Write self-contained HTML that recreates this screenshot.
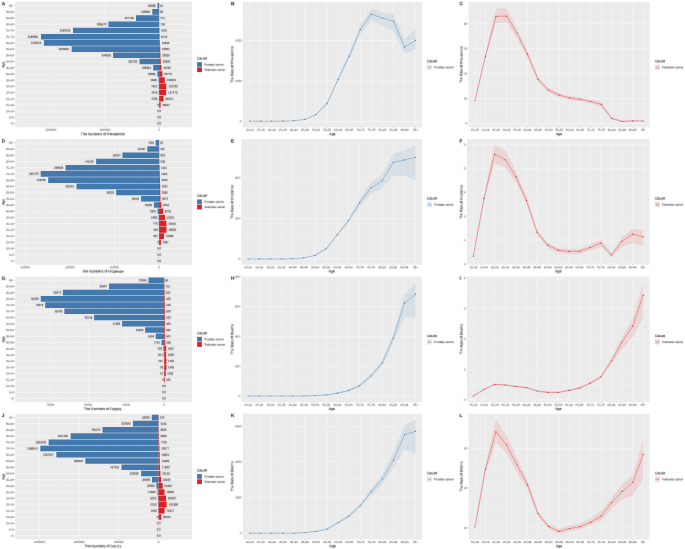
<!DOCTYPE html>
<html lang="en">
<head>
<meta charset="utf-8">
<title>Prostate and testicular cancer by age</title>
<style>
html,body{margin:0;padding:0;background:#fff;}
body{width:685px;height:549px;overflow:hidden;}
svg{display:block;font-family:"Liberation Sans",Arial,Helvetica,sans-serif;text-rendering:geometricPrecision;}
text{stroke-width:0.05px;}
</style>
</head>
<body>
<svg width="685" height="549" viewBox="0 0 685 549">
<defs><filter id="tb" x="0" y="0" width="100%" height="100%" filterUnits="userSpaceOnUse"><feConvolveMatrix order="3" kernelMatrix="0.0120 0.0960 0.0120 0.0760 0.6080 0.0760 0.0120 0.0960 0.0120" edgeMode="none" preserveAlpha="false"/></filter></defs>
<rect width="685" height="549" fill="#fff"/>
<g>
<rect x="15.3" y="1.95" width="176.5" height="125.35" fill="#EBEBEB"/>
<path d="M23.65 1.95V127.3M77.85 1.95V127.3M132.05 1.95V127.3M186.25 1.95V127.3" stroke="#fff" stroke-width="0.2" fill="none"/>
<path d="M50.75 1.95V127.3M104.95 1.95V127.3M159.15 1.95V127.3M15.3 5.67H191.8M15.3 11.88H191.8M15.3 18.08H191.8M15.3 24.29H191.8M15.3 30.5H191.8M15.3 36.7H191.8M15.3 42.91H191.8M15.3 49.11H191.8M15.3 55.32H191.8M15.3 61.52H191.8M15.3 67.73H191.8M15.3 73.93H191.8M15.3 80.14H191.8M15.3 86.34H191.8M15.3 92.55H191.8M15.3 98.75H191.8M15.3 104.96H191.8M15.3 111.17H191.8M15.3 117.37H191.8M15.3 123.58H191.8" stroke="#fff" stroke-width="0.37" fill="none"/>
<path d="M157.51 2.88H159.15V8.47H157.51ZM152.27 9.09H159.15V14.67H152.27ZM135.97 15.29H159.15V20.88H135.97ZM108.43 21.5H159.15V27.08H108.43ZM72.97 27.7H159.15V33.29H72.97ZM40.99 33.91H159.15V39.49H40.99ZM43.91 40.11H159.15V45.7H43.91ZM71.69 46.32H159.15V51.9H71.69ZM113.1 52.52H159.15V58.11H113.1ZM139.49 58.73H159.15V64.31H139.49ZM153.2 64.94H159.15V70.52H153.2ZM157.38 71.14H159.15V76.73H157.38ZM158.63 77.35H159.15V82.93H158.63ZM158.72 83.55H159.15V89.14H158.72ZM158.92 89.76H159.15V95.34H158.92ZM159 95.96H159.15V101.55H159Z" fill="#4379AD"/>
<path d="M159.15 2.88H159.15V8.47H159.15ZM159.15 9.09H159.15V14.67H159.15ZM159.15 15.29H159.16V20.88H159.15ZM159.15 21.5H159.19V27.08H159.15ZM159.15 27.7H159.4V33.29H159.15ZM159.15 33.91H159.61V39.49H159.15ZM159.15 40.11H159.83V45.7H159.15ZM159.15 46.32H160.2V51.9H159.15ZM159.15 52.52H160.41V58.11H159.15ZM159.15 58.73H160.76V64.31H159.15ZM159.15 64.94H161.4V70.52H159.15ZM159.15 71.14H162.44V76.73H159.15ZM159.15 77.35H164.73V82.93H159.15ZM159.15 83.55H166.29V89.14H159.15ZM159.15 89.76H166.06V95.34H159.15ZM159.15 95.96H163.54V101.55H159.15ZM159.15 102.17H160.59V107.75H159.15Z" fill="#DB2226"/>
<path d="M159.15 2.88V126.37" stroke="#DB2226" stroke-width="0.14" stroke-opacity="0.75" fill="none"/>
<path d="M14.42 5.67H15.3M14.42 11.88H15.3M14.42 18.08H15.3M14.42 24.29H15.3M14.42 30.5H15.3M14.42 36.7H15.3M14.42 42.91H15.3M14.42 49.11H15.3M14.42 55.32H15.3M14.42 61.52H15.3M14.42 67.73H15.3M14.42 73.93H15.3M14.42 80.14H15.3M14.42 86.34H15.3M14.42 92.55H15.3M14.42 98.75H15.3M14.42 104.96H15.3M14.42 111.17H15.3M14.42 117.37H15.3M14.42 123.58H15.3" stroke="#444" stroke-width="0.24" fill="none"/>
<path d="M50.75 127.3V128.18M104.95 127.3V128.18M159.15 127.3V128.18" stroke="#444" stroke-width="0.24" fill="none"/>
<rect x="197.1" y="62.12" width="4.8" height="4.75" fill="#4379AD"/>
<rect x="197.1" y="67.38" width="4.8" height="4.75" fill="#DB2226"/>
</g>
<g>
<rect x="15.3" y="139.1" width="176.5" height="125.6" fill="#EBEBEB"/>
<path d="M47.6 139.1V264.7M92.2 139.1V264.7M136.8 139.1V264.7M181.4 139.1V264.7" stroke="#fff" stroke-width="0.2" fill="none"/>
<path d="M25.3 139.1V264.7M69.9 139.1V264.7M114.5 139.1V264.7M159.1 139.1V264.7M15.3 142.83H191.8M15.3 149.05H191.8M15.3 155.27H191.8M15.3 161.48H191.8M15.3 167.7H191.8M15.3 173.92H191.8M15.3 180.14H191.8M15.3 186.36H191.8M15.3 192.57H191.8M15.3 198.79H191.8M15.3 205.01H191.8M15.3 211.23H191.8M15.3 217.44H191.8M15.3 223.66H191.8M15.3 229.88H191.8M15.3 236.1H191.8M15.3 242.32H191.8M15.3 248.53H191.8M15.3 254.75H191.8M15.3 260.97H191.8" stroke="#fff" stroke-width="0.37" fill="none"/>
<path d="M155.71 140.03H159.1V145.63H155.71ZM147.32 146.25H159.1V151.85H147.32ZM122.39 152.47H159.1V158.06H122.39ZM96.15 158.69H159.1V164.28H96.15ZM65.6 164.9H159.1V170.5H65.6ZM40.7 171.12H159.1V176.72H40.7ZM48.17 177.34H159.1V182.94H48.17ZM76.47 183.56H159.1V189.15H76.47ZM116.14 189.78H159.1V195.37H116.14ZM141.02 195.99H159.1V201.59H141.02ZM153.94 202.21H159.1V207.81H153.94ZM157.62 208.43H159.1V214.02H157.62ZM158.61 214.65H159.1V220.24H158.61ZM158.75 220.86H159.1V226.46H158.75ZM158.89 227.08H159.1V232.68H158.89ZM158.94 233.3H159.1V238.9H158.94Z" fill="#4379AD"/>
<path d="M159.1 140.03H159.12V145.63H159.1ZM159.1 146.25H159.16V151.85H159.1ZM159.1 152.47H159.24V158.06H159.1ZM159.1 158.69H159.33V164.28H159.1ZM159.1 164.9H159.6V170.5H159.1ZM159.1 171.12H159.78V176.72H159.1ZM159.1 177.34H160V182.94H159.1ZM159.1 183.56H160.15V189.15H159.1ZM159.1 189.78H160.3V195.37H159.1ZM159.1 195.99H160.47V201.59H159.1ZM159.1 202.21H161.35V207.81H159.1ZM159.1 208.43H163.24V214.02H159.1ZM159.1 214.65H164.94V220.24H159.1ZM159.1 220.86H166.38V226.46H159.1ZM159.1 227.08H166.5V232.68H159.1ZM159.1 233.3H164.04V238.9H159.1ZM159.1 239.52H160.9V245.11H159.1Z" fill="#DB2226"/>
<path d="M159.1 140.03V263.77" stroke="#DB2226" stroke-width="0.14" stroke-opacity="0.75" fill="none"/>
<path d="M14.42 142.83H15.3M14.42 149.05H15.3M14.42 155.27H15.3M14.42 161.48H15.3M14.42 167.7H15.3M14.42 173.92H15.3M14.42 180.14H15.3M14.42 186.36H15.3M14.42 192.57H15.3M14.42 198.79H15.3M14.42 205.01H15.3M14.42 211.23H15.3M14.42 217.44H15.3M14.42 223.66H15.3M14.42 229.88H15.3M14.42 236.1H15.3M14.42 242.32H15.3M14.42 248.53H15.3M14.42 254.75H15.3M14.42 260.97H15.3" stroke="#444" stroke-width="0.24" fill="none"/>
<path d="M25.3 264.7V265.58M69.9 264.7V265.58M114.5 264.7V265.58M159.1 264.7V265.58" stroke="#444" stroke-width="0.24" fill="none"/>
<rect x="197.1" y="199.4" width="4.8" height="4.75" fill="#4379AD"/>
<rect x="197.1" y="204.65" width="4.8" height="4.75" fill="#DB2226"/>
</g>
<g>
<rect x="15.3" y="276.45" width="176.5" height="125.75" fill="#EBEBEB"/>
<path d="M31.2 276.45V402.2M69.2 276.45V402.2M107.2 276.45V402.2M145.2 276.45V402.2M183.2 276.45V402.2" stroke="#fff" stroke-width="0.2" fill="none"/>
<path d="M50.2 276.45V402.2M88.2 276.45V402.2M126.2 276.45V402.2M164.2 276.45V402.2M15.3 280.19H191.8M15.3 286.41H191.8M15.3 292.64H191.8M15.3 298.86H191.8M15.3 305.09H191.8M15.3 311.31H191.8M15.3 317.54H191.8M15.3 323.76H191.8M15.3 329.99H191.8M15.3 336.21H191.8M15.3 342.44H191.8M15.3 348.66H191.8M15.3 354.89H191.8M15.3 361.11H191.8M15.3 367.34H191.8M15.3 373.56H191.8M15.3 379.79H191.8M15.3 386.01H191.8M15.3 392.24H191.8M15.3 398.46H191.8" stroke="#fff" stroke-width="0.37" fill="none"/>
<path d="M148.47 277.38H164.2V282.99H148.47ZM109.03 283.61H164.2V289.21H109.03ZM62.86 289.83H164.2V295.44H62.86ZM40.77 296.06H164.2V301.66H40.77ZM45.22 302.28H164.2V307.89H45.22ZM64.33 308.51H164.2V314.11H64.33ZM94.06 314.74H164.2V320.34H94.06ZM122.1 320.96H164.2V326.56H122.1ZM145.11 327.19H164.2V332.79H145.11ZM155.75 333.41H164.2V339.01H155.75ZM161.52 339.64H164.2V345.24H161.52ZM163.43 345.86H164.2V351.46H163.43ZM163.8 352.09H164.2V357.69H163.8ZM163.97 358.31H164.2V363.91H163.97ZM164.06 364.54H164.2V370.14H164.06ZM164.11 370.76H164.2V376.37H164.11Z" fill="#4379AD"/>
<path d="M164.2 277.38H164.29V282.99H164.2ZM164.2 283.61H164.41V289.21H164.2ZM164.2 289.83H164.7V295.44H164.2ZM164.2 296.06H164.82V301.66H164.2ZM164.2 302.28H164.88V307.89H164.2ZM164.2 308.51H164.97V314.11H164.2ZM164.2 314.74H164.99V320.34H164.2ZM164.2 320.96H164.95V326.56H164.2ZM164.2 327.19H164.95V332.79H164.2ZM164.2 333.41H164.97V339.01H164.2ZM164.2 339.64H165.24V345.24H164.2ZM164.2 345.86H166.19V351.46H164.2ZM164.2 352.09H166.13V357.69H164.2ZM164.2 358.31H166.47V363.91H164.2ZM164.2 364.54H166.43V370.14H164.2ZM164.2 370.76H165.77V376.37H164.2ZM164.2 376.99H164.85V382.59H164.2Z" fill="#DB2226"/>
<path d="M164.2 277.38V401.27" stroke="#DB2226" stroke-width="0.14" stroke-opacity="0.75" fill="none"/>
<path d="M14.42 280.19H15.3M14.42 286.41H15.3M14.42 292.64H15.3M14.42 298.86H15.3M14.42 305.09H15.3M14.42 311.31H15.3M14.42 317.54H15.3M14.42 323.76H15.3M14.42 329.99H15.3M14.42 336.21H15.3M14.42 342.44H15.3M14.42 348.66H15.3M14.42 354.89H15.3M14.42 361.11H15.3M14.42 367.34H15.3M14.42 373.56H15.3M14.42 379.79H15.3M14.42 386.01H15.3M14.42 392.24H15.3M14.42 398.46H15.3" stroke="#444" stroke-width="0.24" fill="none"/>
<path d="M50.2 402.2V403.08M88.2 402.2V403.08M126.2 402.2V403.08M164.2 402.2V403.08" stroke="#444" stroke-width="0.24" fill="none"/>
<rect x="197.1" y="336.82" width="4.8" height="4.75" fill="#4379AD"/>
<rect x="197.1" y="342.07" width="4.8" height="4.75" fill="#DB2226"/>
</g>
<g>
<rect x="15.3" y="413.7" width="176.5" height="125.75" fill="#EBEBEB"/>
<path d="M19.65 413.7V539.45M59.35 413.7V539.45M99.05 413.7V539.45M138.75 413.7V539.45M178.45 413.7V539.45" stroke="#fff" stroke-width="0.2" fill="none"/>
<path d="M39.5 413.7V539.45M79.2 413.7V539.45M118.9 413.7V539.45M158.6 413.7V539.45M15.3 417.44H191.8M15.3 423.66H191.8M15.3 429.89H191.8M15.3 436.11H191.8M15.3 442.34H191.8M15.3 448.56H191.8M15.3 454.79H191.8M15.3 461.01H191.8M15.3 467.24H191.8M15.3 473.46H191.8M15.3 479.69H191.8M15.3 485.91H191.8M15.3 492.14H191.8M15.3 498.36H191.8M15.3 504.59H191.8M15.3 510.81H191.8M15.3 517.04H191.8M15.3 523.26H191.8M15.3 529.49H191.8M15.3 535.71H191.8" stroke="#fff" stroke-width="0.37" fill="none"/>
<path d="M151.77 414.63H158.6V420.24H151.77ZM132.97 420.86H158.6V426.46H132.97ZM102.53 427.08H158.6V432.69H102.53ZM70.69 433.31H158.6V438.91H70.69ZM48.66 439.53H158.6V445.14H48.66ZM40.31 445.76H158.6V451.36H40.31ZM56.34 451.99H158.6V457.59H56.34ZM85.32 458.21H158.6V463.81H85.32ZM121.49 464.44H158.6V470.04H121.49ZM141.08 470.66H158.6V476.26H141.08ZM152.01 476.89H158.6V482.49H152.01ZM156.37 483.11H158.6V488.71H156.37ZM157.43 489.34H158.6V494.94H157.43ZM157.88 495.56H158.6V501.16H157.88ZM158.1 501.79H158.6V507.39H158.1ZM158.28 508.01H158.6V513.62H158.28Z" fill="#4379AD"/>
<path d="M158.6 414.63H158.63V420.24H158.6ZM158.6 420.86H158.7V426.46H158.6ZM158.6 427.08H158.85V432.69H158.6ZM158.6 433.31H159.08V438.91H158.6ZM158.6 439.53H159.21V445.14H158.6ZM158.6 445.76H159.45V451.36H158.6ZM158.6 451.99H159.7V457.59H158.6ZM158.6 458.21H159.81V463.81H158.6ZM158.6 464.44H160.01V470.04H158.6ZM158.6 470.66H160.44V476.26H158.6ZM158.6 476.89H161.15V482.49H158.6ZM158.6 483.11H162.73V488.71H158.6ZM158.6 489.34H164.47V494.94H158.6ZM158.6 495.56H166.07V501.16H158.6ZM158.6 501.79H166.65V507.39H158.6ZM158.6 508.01H164.57V513.62H158.6ZM158.6 514.24H161.2V519.84H158.6Z" fill="#DB2226"/>
<path d="M158.6 414.63V538.52" stroke="#DB2226" stroke-width="0.14" stroke-opacity="0.75" fill="none"/>
<path d="M14.42 417.44H15.3M14.42 423.66H15.3M14.42 429.89H15.3M14.42 436.11H15.3M14.42 442.34H15.3M14.42 448.56H15.3M14.42 454.79H15.3M14.42 461.01H15.3M14.42 467.24H15.3M14.42 473.46H15.3M14.42 479.69H15.3M14.42 485.91H15.3M14.42 492.14H15.3M14.42 498.36H15.3M14.42 504.59H15.3M14.42 510.81H15.3M14.42 517.04H15.3M14.42 523.26H15.3M14.42 529.49H15.3M14.42 535.71H15.3" stroke="#444" stroke-width="0.24" fill="none"/>
<path d="M39.5 539.45V540.33M79.2 539.45V540.33M118.9 539.45V540.33M158.6 539.45V540.33" stroke="#444" stroke-width="0.24" fill="none"/>
<rect x="197.1" y="474.08" width="4.8" height="4.75" fill="#4379AD"/>
<rect x="197.1" y="479.33" width="4.8" height="4.75" fill="#DB2226"/>
</g>
<g>
<rect x="242.9" y="1.95" width="179.1" height="125.35" fill="#EBEBEB"/>
<path d="M242.9 101.1H422M242.9 60.7H422M242.9 20.3H422" stroke="#fff" stroke-width="0.2" fill="none"/>
<path d="M249.54 1.95V127.3M260.62 1.95V127.3M271.69 1.95V127.3M282.77 1.95V127.3M293.84 1.95V127.3M304.91 1.95V127.3M315.99 1.95V127.3M327.06 1.95V127.3M338.14 1.95V127.3M349.21 1.95V127.3M360.29 1.95V127.3M371.36 1.95V127.3M382.43 1.95V127.3M393.51 1.95V127.3M404.58 1.95V127.3M415.66 1.95V127.3M242.9 121.3H422M242.9 80.9H422M242.9 40.5H422" stroke="#fff" stroke-width="0.37" fill="none"/>
<path d="M249.54 120.9L260.62 120.9L271.69 120.9L282.77 120.9L293.84 120.5L304.91 119L315.99 114L327.06 102.6L338.14 77.8L349.21 53.5L360.29 25.2L371.36 8.3L382.43 12.3L393.51 14.3L404.58 39L415.66 29.2L415.66 49.6L404.58 53.6L393.51 31.3L382.43 25.9L371.36 19.9L360.29 34.2L349.21 59L338.14 81L327.06 104.6L315.99 115.2L304.91 119.8L293.84 121.1L282.77 121.5L271.69 121.5L260.62 121.5L249.54 121.5Z" fill="#4682B4" fill-opacity="0.115"/>
<path d="M249.54 121.2L260.62 121.2L271.69 121.2L282.77 121.2L293.84 120.8L304.91 119.4L315.99 114.6L327.06 103.6L338.14 79.4L349.21 56.2L360.29 29.6L371.36 14.2L382.43 18L393.51 21.2L404.58 47.2L415.66 40.4" fill="none" stroke="#4079B0" stroke-width="0.38" stroke-linejoin="round"/>
<g fill="#3A70A6"><circle cx="249.54" cy="121.2" r="0.58"/><circle cx="260.62" cy="121.2" r="0.58"/><circle cx="271.69" cy="121.2" r="0.58"/><circle cx="282.77" cy="121.2" r="0.58"/><circle cx="293.84" cy="120.8" r="0.58"/><circle cx="304.91" cy="119.4" r="0.58"/><circle cx="315.99" cy="114.6" r="0.58"/><circle cx="327.06" cy="103.6" r="0.58"/><circle cx="338.14" cy="79.4" r="0.58"/><circle cx="349.21" cy="56.2" r="0.58"/><circle cx="360.29" cy="29.6" r="0.58"/><circle cx="371.36" cy="14.2" r="0.58"/><circle cx="382.43" cy="18" r="0.58"/><circle cx="393.51" cy="21.2" r="0.58"/><circle cx="404.58" cy="47.2" r="0.58"/><circle cx="415.66" cy="40.4" r="0.58"/></g>
<path d="M242.02 121.3H242.9M242.02 80.9H242.9M242.02 40.5H242.9" stroke="#444" stroke-width="0.24" fill="none"/>
<path d="M249.54 127.3V128.18M260.62 127.3V128.18M271.69 127.3V128.18M282.77 127.3V128.18M293.84 127.3V128.18M304.91 127.3V128.18M315.99 127.3V128.18M327.06 127.3V128.18M338.14 127.3V128.18M349.21 127.3V128.18M360.29 127.3V128.18M371.36 127.3V128.18M382.43 127.3V128.18M393.51 127.3V128.18M404.58 127.3V128.18M415.66 127.3V128.18" stroke="#444" stroke-width="0.24" fill="none"/>
<rect x="427" y="64.88" width="4.85" height="4.85" fill="#F2F2F2"/>
<rect x="427" y="64.88" width="4.85" height="4.85" fill="#4682B4" fill-opacity="0.13"/>
<path d="M427.77 67.3h3.3" stroke="#4079B0" stroke-width="0.3" stroke-opacity="0.8" fill="none"/>
<circle cx="429.42" cy="67.3" r="0.4" fill="#4079B0"/>
</g>
<g>
<rect x="468.6" y="1.95" width="181" height="125.35" fill="#EBEBEB"/>
<path d="M468.6 110.85H649.6M468.6 85.95H649.6M468.6 61.05H649.6M468.6 36.15H649.6M468.6 11.25H649.6" stroke="#fff" stroke-width="0.2" fill="none"/>
<path d="M474.91 1.95V127.3M485.44 1.95V127.3M495.96 1.95V127.3M506.48 1.95V127.3M517.01 1.95V127.3M527.53 1.95V127.3M538.05 1.95V127.3M548.58 1.95V127.3M559.1 1.95V127.3M569.62 1.95V127.3M580.15 1.95V127.3M590.67 1.95V127.3M601.19 1.95V127.3M611.72 1.95V127.3M622.24 1.95V127.3M632.76 1.95V127.3M643.29 1.95V127.3M468.6 123.3H649.6M468.6 98.4H649.6M468.6 73.5H649.6M468.6 48.6H649.6M468.6 23.7H649.6" stroke="#fff" stroke-width="0.37" fill="none"/>
<path d="M474.91 99.6L485.44 54L495.96 8.4L506.48 8L517.01 29L527.53 51L538.05 77L548.58 88L559.1 93L569.62 96L580.15 97.4L590.67 99.4L601.19 101.9L611.72 117.6L622.24 120.8L632.76 120.3L643.29 120.4L643.29 121.6L632.76 121.6L622.24 122L611.72 119.4L601.19 106.7L590.67 103.6L580.15 101.4L569.62 100L559.1 97.2L548.58 92.6L538.05 82L527.53 58L517.01 38L506.48 22.4L495.96 23L485.44 58.4L474.91 101.6Z" fill="#E41A1C" fill-opacity="0.11"/>
<path d="M474.91 100.6L485.44 56.2L495.96 16.4L506.48 16.1L517.01 33L527.53 54.2L538.05 79.2L548.58 90L559.1 95L569.62 97.9L580.15 99.3L590.67 101.5L601.19 104.3L611.72 118.4L622.24 121.4L632.76 120.9L643.29 121" fill="none" stroke="#DB2C32" stroke-width="0.38" stroke-linejoin="round"/>
<g fill="#D3222A"><circle cx="474.91" cy="100.6" r="0.58"/><circle cx="485.44" cy="56.2" r="0.58"/><circle cx="495.96" cy="16.4" r="0.58"/><circle cx="506.48" cy="16.1" r="0.58"/><circle cx="517.01" cy="33" r="0.58"/><circle cx="527.53" cy="54.2" r="0.58"/><circle cx="538.05" cy="79.2" r="0.58"/><circle cx="548.58" cy="90" r="0.58"/><circle cx="559.1" cy="95" r="0.58"/><circle cx="569.62" cy="97.9" r="0.58"/><circle cx="580.15" cy="99.3" r="0.58"/><circle cx="590.67" cy="101.5" r="0.58"/><circle cx="601.19" cy="104.3" r="0.58"/><circle cx="611.72" cy="118.4" r="0.58"/><circle cx="622.24" cy="121.4" r="0.58"/><circle cx="632.76" cy="120.9" r="0.58"/><circle cx="643.29" cy="121" r="0.58"/></g>
<path d="M467.72 123.3H468.6M467.72 98.4H468.6M467.72 73.5H468.6M467.72 48.6H468.6M467.72 23.7H468.6" stroke="#444" stroke-width="0.24" fill="none"/>
<path d="M474.91 127.3V128.18M485.44 127.3V128.18M495.96 127.3V128.18M506.48 127.3V128.18M517.01 127.3V128.18M527.53 127.3V128.18M538.05 127.3V128.18M548.58 127.3V128.18M559.1 127.3V128.18M569.62 127.3V128.18M580.15 127.3V128.18M590.67 127.3V128.18M601.19 127.3V128.18M611.72 127.3V128.18M622.24 127.3V128.18M632.76 127.3V128.18M643.29 127.3V128.18" stroke="#444" stroke-width="0.24" fill="none"/>
<rect x="655" y="64.88" width="4.85" height="4.85" fill="#F2F2F2"/>
<rect x="655" y="64.88" width="4.85" height="4.85" fill="#E41A1C" fill-opacity="0.13"/>
<path d="M655.77 67.3h3.3" stroke="#DB2C32" stroke-width="0.3" stroke-opacity="0.8" fill="none"/>
<circle cx="657.42" cy="67.3" r="0.4" fill="#DB2C32"/>
</g>
<g>
<rect x="241.3" y="139.1" width="180.7" height="125.6" fill="#EBEBEB"/>
<path d="M241.3 238.6H422M241.3 198.1H422M241.3 157.6H422" stroke="#fff" stroke-width="0.2" fill="none"/>
<path d="M248 139.1V264.7M259.18 139.1V264.7M270.35 139.1V264.7M281.52 139.1V264.7M292.7 139.1V264.7M303.87 139.1V264.7M315.04 139.1V264.7M326.21 139.1V264.7M337.39 139.1V264.7M348.56 139.1V264.7M359.73 139.1V264.7M370.9 139.1V264.7M382.08 139.1V264.7M393.25 139.1V264.7M404.42 139.1V264.7M415.6 139.1V264.7M241.3 258.85H422M241.3 218.35H422M241.3 177.85H422" stroke="#fff" stroke-width="0.37" fill="none"/>
<path d="M248 258.65L259.18 258.65L270.35 258.65L281.52 258.65L292.7 258.45L303.87 257.65L315.04 254.75L326.21 247.75L337.39 233.35L348.56 218.75L359.73 199.35L370.9 182.35L382.08 174.35L393.25 153.75L404.42 150.35L415.6 144.95L415.6 180.95L404.42 175.35L393.25 176.35L382.08 188.35L370.9 193.75L359.73 206.35L348.56 222.35L337.39 235.95L326.21 249.75L315.04 255.95L303.87 258.25L292.7 259.05L281.52 259.25L270.35 259.25L259.18 259.25L248 259.25Z" fill="#4682B4" fill-opacity="0.115"/>
<path d="M248 258.95L259.18 258.95L270.35 258.95L281.52 258.95L292.7 258.75L303.87 257.95L315.04 255.35L326.21 248.75L337.39 234.65L348.56 220.55L359.73 202.65L370.9 187.95L382.08 180.75L393.25 162.35L404.42 159.95L415.6 157.35" fill="none" stroke="#4079B0" stroke-width="0.38" stroke-linejoin="round"/>
<g fill="#3A70A6"><circle cx="248" cy="258.95" r="0.58"/><circle cx="259.18" cy="258.95" r="0.58"/><circle cx="270.35" cy="258.95" r="0.58"/><circle cx="281.52" cy="258.95" r="0.58"/><circle cx="292.7" cy="258.75" r="0.58"/><circle cx="303.87" cy="257.95" r="0.58"/><circle cx="315.04" cy="255.35" r="0.58"/><circle cx="326.21" cy="248.75" r="0.58"/><circle cx="337.39" cy="234.65" r="0.58"/><circle cx="348.56" cy="220.55" r="0.58"/><circle cx="359.73" cy="202.65" r="0.58"/><circle cx="370.9" cy="187.95" r="0.58"/><circle cx="382.08" cy="180.75" r="0.58"/><circle cx="393.25" cy="162.35" r="0.58"/><circle cx="404.42" cy="159.95" r="0.58"/><circle cx="415.6" cy="157.35" r="0.58"/></g>
<path d="M240.42 258.85H241.3M240.42 218.35H241.3M240.42 177.85H241.3" stroke="#444" stroke-width="0.24" fill="none"/>
<path d="M248 264.7V265.58M259.18 264.7V265.58M270.35 264.7V265.58M281.52 264.7V265.58M292.7 264.7V265.58M303.87 264.7V265.58M315.04 264.7V265.58M326.21 264.7V265.58M337.39 264.7V265.58M348.56 264.7V265.58M359.73 264.7V265.58M370.9 264.7V265.58M382.08 264.7V265.58M393.25 264.7V265.58M404.42 264.7V265.58M415.6 264.7V265.58" stroke="#444" stroke-width="0.24" fill="none"/>
<rect x="427" y="202.15" width="4.85" height="4.85" fill="#F2F2F2"/>
<rect x="427" y="202.15" width="4.85" height="4.85" fill="#4682B4" fill-opacity="0.13"/>
<path d="M427.77 204.57h3.3" stroke="#4079B0" stroke-width="0.3" stroke-opacity="0.8" fill="none"/>
<circle cx="429.42" cy="204.57" r="0.4" fill="#4079B0"/>
</g>
<g>
<rect x="467" y="139.1" width="182.6" height="125.6" fill="#EBEBEB"/>
<path d="M467 252.04H649.6M467 228.12H649.6M467 204.2H649.6M467 180.28H649.6M467 156.36H649.6" stroke="#fff" stroke-width="0.2" fill="none"/>
<path d="M473.37 139.1V264.7M483.99 139.1V264.7M494.6 139.1V264.7M505.22 139.1V264.7M515.83 139.1V264.7M526.45 139.1V264.7M537.07 139.1V264.7M547.68 139.1V264.7M558.3 139.1V264.7M568.92 139.1V264.7M579.53 139.1V264.7M590.15 139.1V264.7M600.77 139.1V264.7M611.38 139.1V264.7M622 139.1V264.7M632.61 139.1V264.7M643.23 139.1V264.7M467 264H649.6M467 240.08H649.6M467 216.16H649.6M467 192.24H649.6M467 168.32H649.6M467 144.4H649.6" stroke="#fff" stroke-width="0.37" fill="none"/>
<path d="M473.37 255.2L483.99 196L494.6 145L505.22 150.6L515.83 171L526.45 196L537.07 230L547.68 243L558.3 248L568.92 249L579.53 249L590.15 244.6L600.77 239L611.38 253L622 237L632.61 229L643.23 230.4L643.23 246.6L632.61 242.6L622 247L611.38 257.4L600.77 247L590.15 250.6L579.53 254L568.92 254L558.3 252.6L547.68 247.4L537.07 234.6L526.45 204L515.83 182L505.22 168L494.6 163L483.99 201L473.37 257.2Z" fill="#E41A1C" fill-opacity="0.11"/>
<path d="M473.37 256.2L483.99 198.4L494.6 154.2L505.22 159.8L515.83 176.6L526.45 200.4L537.07 232.2L547.68 245L558.3 250.2L568.92 251.4L579.53 251.4L590.15 247.5L600.77 243.2L611.38 255L622 241.4L632.61 234.2L643.23 236.8" fill="none" stroke="#DB2C32" stroke-width="0.38" stroke-linejoin="round"/>
<g fill="#D3222A"><circle cx="473.37" cy="256.2" r="0.58"/><circle cx="483.99" cy="198.4" r="0.58"/><circle cx="494.6" cy="154.2" r="0.58"/><circle cx="505.22" cy="159.8" r="0.58"/><circle cx="515.83" cy="176.6" r="0.58"/><circle cx="526.45" cy="200.4" r="0.58"/><circle cx="537.07" cy="232.2" r="0.58"/><circle cx="547.68" cy="245" r="0.58"/><circle cx="558.3" cy="250.2" r="0.58"/><circle cx="568.92" cy="251.4" r="0.58"/><circle cx="579.53" cy="251.4" r="0.58"/><circle cx="590.15" cy="247.5" r="0.58"/><circle cx="600.77" cy="243.2" r="0.58"/><circle cx="611.38" cy="255" r="0.58"/><circle cx="622" cy="241.4" r="0.58"/><circle cx="632.61" cy="234.2" r="0.58"/><circle cx="643.23" cy="236.8" r="0.58"/></g>
<path d="M466.12 264H467M466.12 240.08H467M466.12 216.16H467M466.12 192.24H467M466.12 168.32H467M466.12 144.4H467" stroke="#444" stroke-width="0.24" fill="none"/>
<path d="M473.37 264.7V265.58M483.99 264.7V265.58M494.6 264.7V265.58M505.22 264.7V265.58M515.83 264.7V265.58M526.45 264.7V265.58M537.07 264.7V265.58M547.68 264.7V265.58M558.3 264.7V265.58M568.92 264.7V265.58M579.53 264.7V265.58M590.15 264.7V265.58M600.77 264.7V265.58M611.38 264.7V265.58M622 264.7V265.58M632.61 264.7V265.58M643.23 264.7V265.58" stroke="#444" stroke-width="0.24" fill="none"/>
<rect x="655" y="202.15" width="4.85" height="4.85" fill="#F2F2F2"/>
<rect x="655" y="202.15" width="4.85" height="4.85" fill="#E41A1C" fill-opacity="0.13"/>
<path d="M655.77 204.57h3.3" stroke="#DB2C32" stroke-width="0.3" stroke-opacity="0.8" fill="none"/>
<circle cx="657.42" cy="204.57" r="0.4" fill="#DB2C32"/>
</g>
<g>
<rect x="241.3" y="276.45" width="180.7" height="125.75" fill="#EBEBEB"/>
<path d="M241.3 381.1H422M241.3 351.3H422M241.3 321.5H422M241.3 291.7H422" stroke="#fff" stroke-width="0.2" fill="none"/>
<path d="M248 276.45V402.2M259.18 276.45V402.2M270.35 276.45V402.2M281.52 276.45V402.2M292.7 276.45V402.2M303.87 276.45V402.2M315.04 276.45V402.2M326.21 276.45V402.2M337.39 276.45V402.2M348.56 276.45V402.2M359.73 276.45V402.2M370.9 276.45V402.2M382.08 276.45V402.2M393.25 276.45V402.2M404.42 276.45V402.2M415.6 276.45V402.2M241.3 396H422M241.3 366.2H422M241.3 336.4H422M241.3 306.6H422" stroke="#fff" stroke-width="0.37" fill="none"/>
<path d="M248 395.7L259.18 395.7L270.35 395.7L281.52 395.7L292.7 395.7L303.87 395.7L315.04 395.3L326.21 394.6L337.39 392.6L348.56 389.6L359.73 384L370.9 374L382.08 361L393.25 334L404.42 295L415.6 283L415.6 318L404.42 317L393.25 343L382.08 366L370.9 378L359.73 387.2L348.56 391.6L337.39 393.8L326.21 395.4L315.04 395.9L303.87 396.3L292.7 396.3L281.52 396.3L270.35 396.3L259.18 396.3L248 396.3Z" fill="#4682B4" fill-opacity="0.115"/>
<path d="M248 396L259.18 396L270.35 396L281.52 396L292.7 396L303.87 396L315.04 395.6L326.21 395L337.39 393.2L348.56 390.6L359.73 385.6L370.9 376L382.08 363L393.25 338L404.42 303.4L415.6 294.2" fill="none" stroke="#4079B0" stroke-width="0.38" stroke-linejoin="round"/>
<g fill="#3A70A6"><circle cx="248" cy="396" r="0.58"/><circle cx="259.18" cy="396" r="0.58"/><circle cx="270.35" cy="396" r="0.58"/><circle cx="281.52" cy="396" r="0.58"/><circle cx="292.7" cy="396" r="0.58"/><circle cx="303.87" cy="396" r="0.58"/><circle cx="315.04" cy="395.6" r="0.58"/><circle cx="326.21" cy="395" r="0.58"/><circle cx="337.39" cy="393.2" r="0.58"/><circle cx="348.56" cy="390.6" r="0.58"/><circle cx="359.73" cy="385.6" r="0.58"/><circle cx="370.9" cy="376" r="0.58"/><circle cx="382.08" cy="363" r="0.58"/><circle cx="393.25" cy="338" r="0.58"/><circle cx="404.42" cy="303.4" r="0.58"/><circle cx="415.6" cy="294.2" r="0.58"/></g>
<path d="M240.42 396H241.3M240.42 366.2H241.3M240.42 336.4H241.3M240.42 306.6H241.3M240.42 276.8H241.3" stroke="#444" stroke-width="0.24" fill="none"/>
<path d="M248 402.2V403.08M259.18 402.2V403.08M270.35 402.2V403.08M281.52 402.2V403.08M292.7 402.2V403.08M303.87 402.2V403.08M315.04 402.2V403.08M326.21 402.2V403.08M337.39 402.2V403.08M348.56 402.2V403.08M359.73 402.2V403.08M370.9 402.2V403.08M382.08 402.2V403.08M393.25 402.2V403.08M404.42 402.2V403.08M415.6 402.2V403.08" stroke="#444" stroke-width="0.24" fill="none"/>
<rect x="427" y="339.57" width="4.85" height="4.85" fill="#F2F2F2"/>
<rect x="427" y="339.57" width="4.85" height="4.85" fill="#4682B4" fill-opacity="0.13"/>
<path d="M427.77 342h3.3" stroke="#4079B0" stroke-width="0.3" stroke-opacity="0.8" fill="none"/>
<circle cx="429.42" cy="342" r="0.4" fill="#4079B0"/>
</g>
<g>
<rect x="467" y="276.45" width="182.6" height="125.75" fill="#EBEBEB"/>
<path d="M467 384.6H649.6M467 354.2H649.6M467 323.8H649.6M467 293.4H649.6" stroke="#fff" stroke-width="0.2" fill="none"/>
<path d="M473.37 276.45V402.2M483.99 276.45V402.2M494.6 276.45V402.2M505.22 276.45V402.2M515.83 276.45V402.2M526.45 276.45V402.2M537.07 276.45V402.2M547.68 276.45V402.2M558.3 276.45V402.2M568.92 276.45V402.2M579.53 276.45V402.2M590.15 276.45V402.2M600.77 276.45V402.2M611.38 276.45V402.2M622 276.45V402.2M632.61 276.45V402.2M643.23 276.45V402.2M467 399.8H649.6M467 369.4H649.6M467 339H649.6M467 308.6H649.6M467 278.2H649.6" stroke="#fff" stroke-width="0.37" fill="none"/>
<path d="M473.37 395.6L483.99 388.8L494.6 383.6L505.22 384.2L515.83 385.6L526.45 386.8L537.07 390.2L547.68 391.6L558.3 391.6L568.92 389.6L579.53 387L590.15 382L600.77 375.4L611.38 358L622 337L632.61 319L643.23 283L643.23 317L632.61 337L622 349L611.38 364L600.77 378.6L590.15 384.6L579.53 389L568.92 391.2L558.3 393.2L547.68 393.2L537.07 391.8L526.45 388.4L515.83 387.2L505.22 385.8L494.6 385.2L483.99 390L473.37 396.4Z" fill="#E41A1C" fill-opacity="0.11"/>
<path d="M473.37 396L483.99 389.4L494.6 384.4L505.22 385L515.83 386.4L526.45 387.6L537.07 391L547.68 392.4L558.3 392.4L568.92 390.4L579.53 388L590.15 383.2L600.77 377L611.38 361L622 342L632.61 326.2L643.23 295.2" fill="none" stroke="#DB2C32" stroke-width="0.38" stroke-linejoin="round"/>
<g fill="#D3222A"><circle cx="473.37" cy="396" r="0.58"/><circle cx="483.99" cy="389.4" r="0.58"/><circle cx="494.6" cy="384.4" r="0.58"/><circle cx="505.22" cy="385" r="0.58"/><circle cx="515.83" cy="386.4" r="0.58"/><circle cx="526.45" cy="387.6" r="0.58"/><circle cx="537.07" cy="391" r="0.58"/><circle cx="547.68" cy="392.4" r="0.58"/><circle cx="558.3" cy="392.4" r="0.58"/><circle cx="568.92" cy="390.4" r="0.58"/><circle cx="579.53" cy="388" r="0.58"/><circle cx="590.15" cy="383.2" r="0.58"/><circle cx="600.77" cy="377" r="0.58"/><circle cx="611.38" cy="361" r="0.58"/><circle cx="622" cy="342" r="0.58"/><circle cx="632.61" cy="326.2" r="0.58"/><circle cx="643.23" cy="295.2" r="0.58"/></g>
<path d="M466.12 399.8H467M466.12 369.4H467M466.12 339H467M466.12 308.6H467M466.12 278.2H467" stroke="#444" stroke-width="0.24" fill="none"/>
<path d="M473.37 402.2V403.08M483.99 402.2V403.08M494.6 402.2V403.08M505.22 402.2V403.08M515.83 402.2V403.08M526.45 402.2V403.08M537.07 402.2V403.08M547.68 402.2V403.08M558.3 402.2V403.08M568.92 402.2V403.08M579.53 402.2V403.08M590.15 402.2V403.08M600.77 402.2V403.08M611.38 402.2V403.08M622 402.2V403.08M632.61 402.2V403.08M643.23 402.2V403.08" stroke="#444" stroke-width="0.24" fill="none"/>
<rect x="655" y="339.57" width="4.85" height="4.85" fill="#F2F2F2"/>
<rect x="655" y="339.57" width="4.85" height="4.85" fill="#E41A1C" fill-opacity="0.13"/>
<path d="M655.77 342h3.3" stroke="#DB2C32" stroke-width="0.3" stroke-opacity="0.8" fill="none"/>
<circle cx="657.42" cy="342" r="0.4" fill="#DB2C32"/>
</g>
<g>
<rect x="243" y="413.7" width="179" height="125.75" fill="#EBEBEB"/>
<path d="M243 515.32H422M243 479.68H422M243 444.02H422" stroke="#fff" stroke-width="0.2" fill="none"/>
<path d="M249.64 413.7V539.45M260.71 413.7V539.45M271.78 413.7V539.45M282.84 413.7V539.45M293.91 413.7V539.45M304.98 413.7V539.45M316.05 413.7V539.45M327.12 413.7V539.45M338.18 413.7V539.45M349.25 413.7V539.45M360.32 413.7V539.45M371.39 413.7V539.45M382.46 413.7V539.45M393.52 413.7V539.45M404.59 413.7V539.45M415.66 413.7V539.45M243 533.15H422M243 497.5H422M243 461.85H422M243 426.2H422" stroke="#fff" stroke-width="0.37" fill="none"/>
<path d="M249.64 532.9L260.71 532.9L271.78 532.9L282.84 532.9L293.91 532.9L304.98 532.3L316.05 531L327.12 528.4L338.18 521.4L349.25 514L360.32 503.6L371.39 488L382.46 474L393.52 452L404.59 425L415.66 419.6L415.66 454L404.59 449.4L393.52 468L382.46 484L371.39 495L360.32 507.6L349.25 517.6L338.18 523.8L327.12 529.6L316.05 531.8L304.98 532.9L293.91 533.5L282.84 533.5L271.78 533.5L260.71 533.5L249.64 533.5Z" fill="#4682B4" fill-opacity="0.115"/>
<path d="M249.64 533.2L260.71 533.2L271.78 533.2L282.84 533.2L293.91 533.2L304.98 532.6L316.05 531.4L327.12 529L338.18 522.6L349.25 515.8L360.32 505.5L371.39 491.6L382.46 479L393.52 460L404.59 434.4L415.66 431.4" fill="none" stroke="#4079B0" stroke-width="0.38" stroke-linejoin="round"/>
<g fill="#3A70A6"><circle cx="249.64" cy="533.2" r="0.58"/><circle cx="260.71" cy="533.2" r="0.58"/><circle cx="271.78" cy="533.2" r="0.58"/><circle cx="282.84" cy="533.2" r="0.58"/><circle cx="293.91" cy="533.2" r="0.58"/><circle cx="304.98" cy="532.6" r="0.58"/><circle cx="316.05" cy="531.4" r="0.58"/><circle cx="327.12" cy="529" r="0.58"/><circle cx="338.18" cy="522.6" r="0.58"/><circle cx="349.25" cy="515.8" r="0.58"/><circle cx="360.32" cy="505.5" r="0.58"/><circle cx="371.39" cy="491.6" r="0.58"/><circle cx="382.46" cy="479" r="0.58"/><circle cx="393.52" cy="460" r="0.58"/><circle cx="404.59" cy="434.4" r="0.58"/><circle cx="415.66" cy="431.4" r="0.58"/></g>
<path d="M242.12 533.15H243M242.12 497.5H243M242.12 461.85H243M242.12 426.2H243" stroke="#444" stroke-width="0.24" fill="none"/>
<path d="M249.64 539.45V540.33M260.71 539.45V540.33M271.78 539.45V540.33M282.84 539.45V540.33M293.91 539.45V540.33M304.98 539.45V540.33M316.05 539.45V540.33M327.12 539.45V540.33M338.18 539.45V540.33M349.25 539.45V540.33M360.32 539.45V540.33M371.39 539.45V540.33M382.46 539.45V540.33M393.52 539.45V540.33M404.59 539.45V540.33M415.66 539.45V540.33" stroke="#444" stroke-width="0.24" fill="none"/>
<rect x="427" y="476.83" width="4.85" height="4.85" fill="#F2F2F2"/>
<rect x="427" y="476.83" width="4.85" height="4.85" fill="#4682B4" fill-opacity="0.13"/>
<path d="M427.77 479.25h3.3" stroke="#4079B0" stroke-width="0.3" stroke-opacity="0.8" fill="none"/>
<circle cx="429.42" cy="479.25" r="0.4" fill="#4079B0"/>
</g>
<g>
<rect x="468.6" y="413.7" width="181" height="125.75" fill="#EBEBEB"/>
<path d="M468.6 508.01H649.6M468.6 468.23H649.6M468.6 428.45H649.6" stroke="#fff" stroke-width="0.2" fill="none"/>
<path d="M474.91 413.7V539.45M485.44 413.7V539.45M495.96 413.7V539.45M506.48 413.7V539.45M517.01 413.7V539.45M527.53 413.7V539.45M538.05 413.7V539.45M548.58 413.7V539.45M559.1 413.7V539.45M569.62 413.7V539.45M580.15 413.7V539.45M590.67 413.7V539.45M601.19 413.7V539.45M611.72 413.7V539.45M622.24 413.7V539.45M632.76 413.7V539.45M643.29 413.7V539.45M468.6 527.9H649.6M468.6 488.12H649.6M468.6 448.34H649.6" stroke="#fff" stroke-width="0.37" fill="none"/>
<path d="M474.91 526L485.44 465.4L495.96 419.4L506.48 435.4L517.01 458.4L527.53 480.4L538.05 511.4L548.58 524.4L559.1 528.4L569.62 525.4L580.15 523.4L590.67 518.4L601.19 511L611.72 497.4L622.24 484.4L632.76 474.8L643.29 440L643.29 478.6L632.76 495.4L622.24 499.4L611.72 509L601.19 520.4L590.67 525L580.15 529.4L569.62 531L559.1 533.8L548.58 528.4L538.05 516.4L527.53 489.4L517.01 472.4L506.48 453.4L495.96 442.4L485.44 473.4L474.91 528Z" fill="#E41A1C" fill-opacity="0.11"/>
<path d="M474.91 527L485.44 469L495.96 431.8L506.48 444.8L517.01 465L527.53 484.7L538.05 513.6L548.58 526.4L559.1 531.4L569.62 528.6L580.15 526.6L590.67 522.2L601.19 516.2L611.72 502.6L622.24 491.4L632.76 482.4L643.29 454.4" fill="none" stroke="#DB2C32" stroke-width="0.38" stroke-linejoin="round"/>
<g fill="#D3222A"><circle cx="474.91" cy="527" r="0.58"/><circle cx="485.44" cy="469" r="0.58"/><circle cx="495.96" cy="431.8" r="0.58"/><circle cx="506.48" cy="444.8" r="0.58"/><circle cx="517.01" cy="465" r="0.58"/><circle cx="527.53" cy="484.7" r="0.58"/><circle cx="538.05" cy="513.6" r="0.58"/><circle cx="548.58" cy="526.4" r="0.58"/><circle cx="559.1" cy="531.4" r="0.58"/><circle cx="569.62" cy="528.6" r="0.58"/><circle cx="580.15" cy="526.6" r="0.58"/><circle cx="590.67" cy="522.2" r="0.58"/><circle cx="601.19" cy="516.2" r="0.58"/><circle cx="611.72" cy="502.6" r="0.58"/><circle cx="622.24" cy="491.4" r="0.58"/><circle cx="632.76" cy="482.4" r="0.58"/><circle cx="643.29" cy="454.4" r="0.58"/></g>
<path d="M467.72 527.9H468.6M467.72 488.12H468.6M467.72 448.34H468.6" stroke="#444" stroke-width="0.24" fill="none"/>
<path d="M474.91 539.45V540.33M485.44 539.45V540.33M495.96 539.45V540.33M506.48 539.45V540.33M517.01 539.45V540.33M527.53 539.45V540.33M538.05 539.45V540.33M548.58 539.45V540.33M559.1 539.45V540.33M569.62 539.45V540.33M580.15 539.45V540.33M590.67 539.45V540.33M601.19 539.45V540.33M611.72 539.45V540.33M622.24 539.45V540.33M632.76 539.45V540.33M643.29 539.45V540.33" stroke="#444" stroke-width="0.24" fill="none"/>
<rect x="655" y="476.83" width="4.85" height="4.85" fill="#F2F2F2"/>
<rect x="655" y="476.83" width="4.85" height="4.85" fill="#E41A1C" fill-opacity="0.13"/>
<path d="M655.77 479.25h3.3" stroke="#DB2C32" stroke-width="0.3" stroke-opacity="0.8" fill="none"/>
<circle cx="657.42" cy="479.25" r="0.4" fill="#DB2C32"/>
</g>
<g filter="url(#tb)">
<text x="155.62" y="6.65" font-size="2.72" fill="#000" stroke="#000" text-anchor="end" transform="rotate(0.1 155.62 6.65)">30338</text>
<text x="159.91" y="6.65" font-size="2.72" fill="#000" stroke="#000" transform="rotate(0.1 159.91 6.65)">16</text>
<text x="150" y="12.85" font-size="2.72" fill="#000" stroke="#000" text-anchor="end" transform="rotate(0.1 150 12.85)">126966</text>
<text x="159.91" y="12.85" font-size="2.72" fill="#000" stroke="#000" transform="rotate(0.1 159.91 12.85)">90</text>
<text x="133.7" y="19.06" font-size="2.72" fill="#000" stroke="#000" text-anchor="end" transform="rotate(0.1 133.7 19.06)">427728</text>
<text x="160.29" y="19.06" font-size="2.72" fill="#000" stroke="#000" transform="rotate(0.1 160.29 19.06)">174</text>
<text x="106.16" y="25.26" font-size="2.72" fill="#000" stroke="#000" text-anchor="end" transform="rotate(0.1 106.16 25.26)">935870</text>
<text x="160.32" y="25.26" font-size="2.72" fill="#000" stroke="#000" transform="rotate(0.1 160.32 25.26)">748</text>
<text x="70.32" y="31.47" font-size="2.72" fill="#000" stroke="#000" text-anchor="end" transform="rotate(0.1 70.32 31.47)">1590129</text>
<text x="160.91" y="31.47" font-size="2.72" fill="#000" stroke="#000" transform="rotate(0.1 160.91 31.47)">4601</text>
<text x="38.34" y="37.67" font-size="2.72" fill="#000" stroke="#000" text-anchor="end" transform="rotate(0.1 38.34 37.67)">2180081</text>
<text x="161.12" y="37.67" font-size="2.72" fill="#000" stroke="#000" transform="rotate(0.1 161.12 37.67)">8410</text>
<text x="41.27" y="43.88" font-size="2.72" fill="#000" stroke="#000" text-anchor="end" transform="rotate(0.1 41.27 43.88)">2126116</text>
<text x="161.72" y="43.88" font-size="2.72" fill="#000" stroke="#000" transform="rotate(0.1 161.72 43.88)">12626</text>
<text x="69.05" y="50.09" font-size="2.72" fill="#000" stroke="#000" text-anchor="end" transform="rotate(0.1 69.05 50.09)">1613594</text>
<text x="162.09" y="50.09" font-size="2.72" fill="#000" stroke="#000" transform="rotate(0.1 162.09 50.09)">19301</text>
<text x="110.84" y="56.29" font-size="2.72" fill="#000" stroke="#000" text-anchor="end" transform="rotate(0.1 110.84 56.29)">849558</text>
<text x="162.3" y="56.29" font-size="2.72" fill="#000" stroke="#000" transform="rotate(0.1 162.3 56.29)">23255</text>
<text x="137.22" y="62.5" font-size="2.72" fill="#000" stroke="#000" text-anchor="end" transform="rotate(0.1 137.22 62.5)">362706</text>
<text x="162.65" y="62.5" font-size="2.72" fill="#000" stroke="#000" transform="rotate(0.1 162.65 62.5)">29695</text>
<text x="150.93" y="68.7" font-size="2.72" fill="#000" stroke="#000" text-anchor="end" transform="rotate(0.1 150.93 68.7)">109816</text>
<text x="163.29" y="68.7" font-size="2.72" fill="#000" stroke="#000" transform="rotate(0.1 163.29 68.7)">41584</text>
<text x="155.49" y="74.91" font-size="2.72" fill="#000" stroke="#000" text-anchor="end" transform="rotate(0.1 155.49 74.91)">32696</text>
<text x="164.33" y="74.91" font-size="2.72" fill="#000" stroke="#000" transform="rotate(0.1 164.33 74.91)">60776</text>
<text x="157.12" y="81.11" font-size="2.72" fill="#000" stroke="#000" text-anchor="end" transform="rotate(0.1 157.12 81.11)">9595</text>
<text x="166.99" y="81.11" font-size="2.72" fill="#000" stroke="#000" transform="rotate(0.1 166.99 81.11)">102875</text>
<text x="157.21" y="87.32" font-size="2.72" fill="#000" stroke="#000" text-anchor="end" transform="rotate(0.1 157.21 87.32)">7951</text>
<text x="168.56" y="87.32" font-size="2.72" fill="#000" stroke="#000" transform="rotate(0.1 168.56 87.32)">131793</text>
<text x="157.41" y="93.52" font-size="2.72" fill="#000" stroke="#000" text-anchor="end" transform="rotate(0.1 157.41 93.52)">4246</text>
<text x="168.33" y="93.52" font-size="2.72" fill="#000" stroke="#000" transform="rotate(0.1 168.33 93.52)">127476</text>
<text x="157.49" y="99.73" font-size="2.72" fill="#000" stroke="#000" text-anchor="end" transform="rotate(0.1 157.49 99.73)">2786</text>
<text x="165.43" y="99.73" font-size="2.72" fill="#000" stroke="#000" transform="rotate(0.1 165.43 99.73)">81041</text>
<text x="158.77" y="105.93" font-size="2.72" fill="#000" stroke="#000" text-anchor="end" transform="rotate(0.1 158.77 105.93)">0</text>
<text x="162.48" y="105.93" font-size="2.72" fill="#000" stroke="#000" transform="rotate(0.1 162.48 105.93)">26511</text>
<text x="158.77" y="112.14" font-size="2.72" fill="#000" stroke="#000" text-anchor="end" transform="rotate(0.1 158.77 112.14)">0</text>
<text x="159.53" y="112.14" font-size="2.72" fill="#000" stroke="#000" transform="rotate(0.1 159.53 112.14)">0</text>
<text x="158.77" y="118.35" font-size="2.72" fill="#000" stroke="#000" text-anchor="end" transform="rotate(0.1 158.77 118.35)">0</text>
<text x="159.53" y="118.35" font-size="2.72" fill="#000" stroke="#000" transform="rotate(0.1 159.53 118.35)">0</text>
<text x="158.77" y="124.55" font-size="2.72" fill="#000" stroke="#000" text-anchor="end" transform="rotate(0.1 158.77 124.55)">0</text>
<text x="159.53" y="124.55" font-size="2.72" fill="#000" stroke="#000" transform="rotate(0.1 159.53 124.55)">0</text>
<text x="13.75" y="6.68" font-size="2.82" fill="#4D4D4D" stroke="#4D4D4D" text-anchor="end" transform="rotate(0.1 13.75 6.68)">95+</text>
<text x="13.75" y="12.89" font-size="2.82" fill="#4D4D4D" stroke="#4D4D4D" text-anchor="end" transform="rotate(0.1 13.75 12.89)">90–94</text>
<text x="13.75" y="19.09" font-size="2.82" fill="#4D4D4D" stroke="#4D4D4D" text-anchor="end" transform="rotate(0.1 13.75 19.09)">85–89</text>
<text x="13.75" y="25.3" font-size="2.82" fill="#4D4D4D" stroke="#4D4D4D" text-anchor="end" transform="rotate(0.1 13.75 25.3)">80–84</text>
<text x="13.75" y="31.5" font-size="2.82" fill="#4D4D4D" stroke="#4D4D4D" text-anchor="end" transform="rotate(0.1 13.75 31.5)">75–79</text>
<text x="13.75" y="37.71" font-size="2.82" fill="#4D4D4D" stroke="#4D4D4D" text-anchor="end" transform="rotate(0.1 13.75 37.71)">70–74</text>
<text x="13.75" y="43.92" font-size="2.82" fill="#4D4D4D" stroke="#4D4D4D" text-anchor="end" transform="rotate(0.1 13.75 43.92)">65–69</text>
<text x="13.75" y="50.12" font-size="2.82" fill="#4D4D4D" stroke="#4D4D4D" text-anchor="end" transform="rotate(0.1 13.75 50.12)">60–64</text>
<text x="13.75" y="56.33" font-size="2.82" fill="#4D4D4D" stroke="#4D4D4D" text-anchor="end" transform="rotate(0.1 13.75 56.33)">55–59</text>
<text x="13.75" y="62.53" font-size="2.82" fill="#4D4D4D" stroke="#4D4D4D" text-anchor="end" transform="rotate(0.1 13.75 62.53)">50–54</text>
<text x="13.75" y="68.74" font-size="2.82" fill="#4D4D4D" stroke="#4D4D4D" text-anchor="end" transform="rotate(0.1 13.75 68.74)">45–49</text>
<text x="13.75" y="74.94" font-size="2.82" fill="#4D4D4D" stroke="#4D4D4D" text-anchor="end" transform="rotate(0.1 13.75 74.94)">40–44</text>
<text x="13.75" y="81.15" font-size="2.82" fill="#4D4D4D" stroke="#4D4D4D" text-anchor="end" transform="rotate(0.1 13.75 81.15)">35–39</text>
<text x="13.75" y="87.35" font-size="2.82" fill="#4D4D4D" stroke="#4D4D4D" text-anchor="end" transform="rotate(0.1 13.75 87.35)">30–34</text>
<text x="13.75" y="93.56" font-size="2.82" fill="#4D4D4D" stroke="#4D4D4D" text-anchor="end" transform="rotate(0.1 13.75 93.56)">25–29</text>
<text x="13.75" y="99.76" font-size="2.82" fill="#4D4D4D" stroke="#4D4D4D" text-anchor="end" transform="rotate(0.1 13.75 99.76)">20–24</text>
<text x="13.75" y="105.97" font-size="2.82" fill="#4D4D4D" stroke="#4D4D4D" text-anchor="end" transform="rotate(0.1 13.75 105.97)">15–19</text>
<text x="13.75" y="112.18" font-size="2.82" fill="#4D4D4D" stroke="#4D4D4D" text-anchor="end" transform="rotate(0.1 13.75 112.18)">10–14</text>
<text x="13.75" y="118.38" font-size="2.82" fill="#4D4D4D" stroke="#4D4D4D" text-anchor="end" transform="rotate(0.1 13.75 118.38)">5–9</text>
<text x="13.75" y="124.59" font-size="2.82" fill="#4D4D4D" stroke="#4D4D4D" text-anchor="end" transform="rotate(0.1 13.75 124.59)">&lt;5</text>
<text x="50.75" y="130.86" font-size="2.82" fill="#4D4D4D" stroke="#4D4D4D" text-anchor="middle" transform="rotate(0.1 50.75 130.86)">2000000</text>
<text x="104.95" y="130.86" font-size="2.82" fill="#4D4D4D" stroke="#4D4D4D" text-anchor="middle" transform="rotate(0.1 104.95 130.86)">1000000</text>
<text x="159.15" y="130.86" font-size="2.82" fill="#4D4D4D" stroke="#4D4D4D" text-anchor="middle" transform="rotate(0.1 159.15 130.86)">0</text>
<text x="102.75" y="135.21" font-size="3.52" fill="#000" stroke="#000" text-anchor="middle" transform="rotate(0.1 102.75 135.21)">The Numbers of Prevalence</text>
<text x="4.45" y="64.62" font-size="3.52" fill="#000" stroke="#000" text-anchor="middle" transform="rotate(-89.9 4.45 64.62)">Age</text>
<text x="1.8" y="5.35" font-size="4.75" fill="#000" stroke="#000" font-weight="bold" transform="rotate(0.1 1.8 5.35)">A</text>
<text x="197" y="59.59" font-size="3.52" fill="#000" stroke="#000" transform="rotate(0.1 197 59.59)">Cause</text>
<text x="204.2" y="65.53" font-size="2.82" fill="#000" stroke="#000" transform="rotate(0.1 204.2 65.53)">Prostate cancer</text>
<text x="204.2" y="70.78" font-size="2.82" fill="#000" stroke="#000" transform="rotate(0.1 204.2 70.78)">Testicular cancer</text>
<text x="154.2" y="143.8" font-size="2.72" fill="#000" stroke="#000" text-anchor="end" transform="rotate(0.1 154.2 143.8)">7594</text>
<text x="159.88" y="143.8" font-size="2.72" fill="#000" stroke="#000" transform="rotate(0.1 159.88 143.8)">52</text>
<text x="145.43" y="150.02" font-size="2.72" fill="#000" stroke="#000" text-anchor="end" transform="rotate(0.1 145.43 150.02)">26407</text>
<text x="160.29" y="150.02" font-size="2.72" fill="#000" stroke="#000" transform="rotate(0.1 160.29 150.02)">131</text>
<text x="120.5" y="156.24" font-size="2.72" fill="#000" stroke="#000" text-anchor="end" transform="rotate(0.1 120.5 156.24)">82314</text>
<text x="160.37" y="156.24" font-size="2.72" fill="#000" stroke="#000" transform="rotate(0.1 160.37 156.24)">303</text>
<text x="93.89" y="162.46" font-size="2.72" fill="#000" stroke="#000" text-anchor="end" transform="rotate(0.1 93.89 162.46)">141135</text>
<text x="160.46" y="162.46" font-size="2.72" fill="#000" stroke="#000" transform="rotate(0.1 160.46 162.46)">508</text>
<text x="63.33" y="168.68" font-size="2.72" fill="#000" stroke="#000" text-anchor="end" transform="rotate(0.1 63.33 168.68)">209636</text>
<text x="161.11" y="168.68" font-size="2.72" fill="#000" stroke="#000" transform="rotate(0.1 161.11 168.68)">1112</text>
<text x="38.43" y="174.89" font-size="2.72" fill="#000" stroke="#000" text-anchor="end" transform="rotate(0.1 38.43 174.89)">265470</text>
<text x="161.29" y="174.89" font-size="2.72" fill="#000" stroke="#000" transform="rotate(0.1 161.29 174.89)">1525</text>
<text x="45.9" y="181.11" font-size="2.72" fill="#000" stroke="#000" text-anchor="end" transform="rotate(0.1 45.9 181.11)">248732</text>
<text x="161.51" y="181.11" font-size="2.72" fill="#000" stroke="#000" transform="rotate(0.1 161.51 181.11)">2015</text>
<text x="74.21" y="187.33" font-size="2.72" fill="#000" stroke="#000" text-anchor="end" transform="rotate(0.1 74.21 187.33)">185261</text>
<text x="161.67" y="187.33" font-size="2.72" fill="#000" stroke="#000" transform="rotate(0.1 161.67 187.33)">2361</text>
<text x="114.25" y="193.55" font-size="2.72" fill="#000" stroke="#000" text-anchor="end" transform="rotate(0.1 114.25 193.55)">96322</text>
<text x="161.81" y="193.55" font-size="2.72" fill="#000" stroke="#000" transform="rotate(0.1 161.81 193.55)">2685</text>
<text x="139.13" y="199.76" font-size="2.72" fill="#000" stroke="#000" text-anchor="end" transform="rotate(0.1 139.13 199.76)">40529</text>
<text x="161.98" y="199.76" font-size="2.72" fill="#000" stroke="#000" transform="rotate(0.1 161.98 199.76)">3076</text>
<text x="152.05" y="205.98" font-size="2.72" fill="#000" stroke="#000" text-anchor="end" transform="rotate(0.1 152.05 205.98)">11568</text>
<text x="162.87" y="205.98" font-size="2.72" fill="#000" stroke="#000" transform="rotate(0.1 162.87 205.98)">5052</text>
<text x="156.11" y="212.2" font-size="2.72" fill="#000" stroke="#000" text-anchor="end" transform="rotate(0.1 156.11 212.2)">3310</text>
<text x="164.75" y="212.2" font-size="2.72" fill="#000" stroke="#000" transform="rotate(0.1 164.75 212.2)">9278</text>
<text x="157.1" y="218.42" font-size="2.72" fill="#000" stroke="#000" text-anchor="end" transform="rotate(0.1 157.1 218.42)">1093</text>
<text x="166.83" y="218.42" font-size="2.72" fill="#000" stroke="#000" transform="rotate(0.1 166.83 218.42)">13101</text>
<text x="157.62" y="224.64" font-size="2.72" fill="#000" stroke="#000" text-anchor="end" transform="rotate(0.1 157.62 224.64)">776</text>
<text x="168.27" y="224.64" font-size="2.72" fill="#000" stroke="#000" transform="rotate(0.1 168.27 224.64)">16313</text>
<text x="157.76" y="230.85" font-size="2.72" fill="#000" stroke="#000" text-anchor="end" transform="rotate(0.1 157.76 230.85)">463</text>
<text x="168.39" y="230.85" font-size="2.72" fill="#000" stroke="#000" transform="rotate(0.1 168.39 230.85)">16602</text>
<text x="157.8" y="237.07" font-size="2.72" fill="#000" stroke="#000" text-anchor="end" transform="rotate(0.1 157.8 237.07)">367</text>
<text x="165.93" y="237.07" font-size="2.72" fill="#000" stroke="#000" transform="rotate(0.1 165.93 237.07)">11083</text>
<text x="158.72" y="243.29" font-size="2.72" fill="#000" stroke="#000" text-anchor="end" transform="rotate(0.1 158.72 243.29)">0</text>
<text x="162.41" y="243.29" font-size="2.72" fill="#000" stroke="#000" transform="rotate(0.1 162.41 243.29)">4037</text>
<text x="158.72" y="249.51" font-size="2.72" fill="#000" stroke="#000" text-anchor="end" transform="rotate(0.1 158.72 249.51)">0</text>
<text x="159.48" y="249.51" font-size="2.72" fill="#000" stroke="#000" transform="rotate(0.1 159.48 249.51)">0</text>
<text x="158.72" y="255.73" font-size="2.72" fill="#000" stroke="#000" text-anchor="end" transform="rotate(0.1 158.72 255.73)">0</text>
<text x="159.48" y="255.73" font-size="2.72" fill="#000" stroke="#000" transform="rotate(0.1 159.48 255.73)">0</text>
<text x="158.72" y="261.94" font-size="2.72" fill="#000" stroke="#000" text-anchor="end" transform="rotate(0.1 158.72 261.94)">0</text>
<text x="159.48" y="261.94" font-size="2.72" fill="#000" stroke="#000" transform="rotate(0.1 159.48 261.94)">0</text>
<text x="13.75" y="143.84" font-size="2.82" fill="#4D4D4D" stroke="#4D4D4D" text-anchor="end" transform="rotate(0.1 13.75 143.84)">95+</text>
<text x="13.75" y="150.06" font-size="2.82" fill="#4D4D4D" stroke="#4D4D4D" text-anchor="end" transform="rotate(0.1 13.75 150.06)">90–94</text>
<text x="13.75" y="156.28" font-size="2.82" fill="#4D4D4D" stroke="#4D4D4D" text-anchor="end" transform="rotate(0.1 13.75 156.28)">85–89</text>
<text x="13.75" y="162.49" font-size="2.82" fill="#4D4D4D" stroke="#4D4D4D" text-anchor="end" transform="rotate(0.1 13.75 162.49)">80–84</text>
<text x="13.75" y="168.71" font-size="2.82" fill="#4D4D4D" stroke="#4D4D4D" text-anchor="end" transform="rotate(0.1 13.75 168.71)">75–79</text>
<text x="13.75" y="174.93" font-size="2.82" fill="#4D4D4D" stroke="#4D4D4D" text-anchor="end" transform="rotate(0.1 13.75 174.93)">70–74</text>
<text x="13.75" y="181.15" font-size="2.82" fill="#4D4D4D" stroke="#4D4D4D" text-anchor="end" transform="rotate(0.1 13.75 181.15)">65–69</text>
<text x="13.75" y="187.37" font-size="2.82" fill="#4D4D4D" stroke="#4D4D4D" text-anchor="end" transform="rotate(0.1 13.75 187.37)">60–64</text>
<text x="13.75" y="193.58" font-size="2.82" fill="#4D4D4D" stroke="#4D4D4D" text-anchor="end" transform="rotate(0.1 13.75 193.58)">55–59</text>
<text x="13.75" y="199.8" font-size="2.82" fill="#4D4D4D" stroke="#4D4D4D" text-anchor="end" transform="rotate(0.1 13.75 199.8)">50–54</text>
<text x="13.75" y="206.02" font-size="2.82" fill="#4D4D4D" stroke="#4D4D4D" text-anchor="end" transform="rotate(0.1 13.75 206.02)">45–49</text>
<text x="13.75" y="212.24" font-size="2.82" fill="#4D4D4D" stroke="#4D4D4D" text-anchor="end" transform="rotate(0.1 13.75 212.24)">40–44</text>
<text x="13.75" y="218.45" font-size="2.82" fill="#4D4D4D" stroke="#4D4D4D" text-anchor="end" transform="rotate(0.1 13.75 218.45)">35–39</text>
<text x="13.75" y="224.67" font-size="2.82" fill="#4D4D4D" stroke="#4D4D4D" text-anchor="end" transform="rotate(0.1 13.75 224.67)">30–34</text>
<text x="13.75" y="230.89" font-size="2.82" fill="#4D4D4D" stroke="#4D4D4D" text-anchor="end" transform="rotate(0.1 13.75 230.89)">25–29</text>
<text x="13.75" y="237.11" font-size="2.82" fill="#4D4D4D" stroke="#4D4D4D" text-anchor="end" transform="rotate(0.1 13.75 237.11)">20–24</text>
<text x="13.75" y="243.33" font-size="2.82" fill="#4D4D4D" stroke="#4D4D4D" text-anchor="end" transform="rotate(0.1 13.75 243.33)">15–19</text>
<text x="13.75" y="249.54" font-size="2.82" fill="#4D4D4D" stroke="#4D4D4D" text-anchor="end" transform="rotate(0.1 13.75 249.54)">10–14</text>
<text x="13.75" y="255.76" font-size="2.82" fill="#4D4D4D" stroke="#4D4D4D" text-anchor="end" transform="rotate(0.1 13.75 255.76)">5–9</text>
<text x="13.75" y="261.98" font-size="2.82" fill="#4D4D4D" stroke="#4D4D4D" text-anchor="end" transform="rotate(0.1 13.75 261.98)">&lt;5</text>
<text x="25.3" y="268.26" font-size="2.82" fill="#4D4D4D" stroke="#4D4D4D" text-anchor="middle" transform="rotate(0.1 25.3 268.26)">300000</text>
<text x="69.9" y="268.26" font-size="2.82" fill="#4D4D4D" stroke="#4D4D4D" text-anchor="middle" transform="rotate(0.1 69.9 268.26)">200000</text>
<text x="114.5" y="268.26" font-size="2.82" fill="#4D4D4D" stroke="#4D4D4D" text-anchor="middle" transform="rotate(0.1 114.5 268.26)">100000</text>
<text x="159.1" y="268.26" font-size="2.82" fill="#4D4D4D" stroke="#4D4D4D" text-anchor="middle" transform="rotate(0.1 159.1 268.26)">0</text>
<text x="102.75" y="272.61" font-size="3.52" fill="#000" stroke="#000" text-anchor="middle" transform="rotate(0.1 102.75 272.61)">The Numbers of Incidence</text>
<text x="4.45" y="201.9" font-size="3.52" fill="#000" stroke="#000" text-anchor="middle" transform="rotate(-89.9 4.45 201.9)">Age</text>
<text x="1.8" y="142.5" font-size="4.75" fill="#000" stroke="#000" font-weight="bold" transform="rotate(0.1 1.8 142.5)">D</text>
<text x="197" y="196.86" font-size="3.52" fill="#000" stroke="#000" transform="rotate(0.1 197 196.86)">Cause</text>
<text x="204.2" y="202.81" font-size="2.82" fill="#000" stroke="#000" transform="rotate(0.1 204.2 202.81)">Prostate cancer</text>
<text x="204.2" y="208.06" font-size="2.82" fill="#000" stroke="#000" transform="rotate(0.1 204.2 208.06)">Testicular cancer</text>
<text x="146.58" y="281.16" font-size="2.72" fill="#000" stroke="#000" text-anchor="end" transform="rotate(0.1 146.58 281.16)">10346</text>
<text x="165.05" y="281.16" font-size="2.72" fill="#000" stroke="#000" transform="rotate(0.1 165.05 281.16)">59</text>
<text x="107.14" y="287.38" font-size="2.72" fill="#000" stroke="#000" text-anchor="end" transform="rotate(0.1 107.14 287.38)">36297</text>
<text x="165.55" y="287.38" font-size="2.72" fill="#000" stroke="#000" transform="rotate(0.1 165.55 287.38)">141</text>
<text x="60.97" y="293.61" font-size="2.72" fill="#000" stroke="#000" text-anchor="end" transform="rotate(0.1 60.97 293.61)">66673</text>
<text x="165.83" y="293.61" font-size="2.72" fill="#000" stroke="#000" transform="rotate(0.1 165.83 293.61)">326</text>
<text x="38.88" y="299.83" font-size="2.72" fill="#000" stroke="#000" text-anchor="end" transform="rotate(0.1 38.88 299.83)">81206</text>
<text x="165.95" y="299.83" font-size="2.72" fill="#000" stroke="#000" transform="rotate(0.1 165.95 299.83)">408</text>
<text x="43.33" y="306.06" font-size="2.72" fill="#000" stroke="#000" text-anchor="end" transform="rotate(0.1 43.33 306.06)">78279</text>
<text x="166.02" y="306.06" font-size="2.72" fill="#000" stroke="#000" transform="rotate(0.1 166.02 306.06)">449</text>
<text x="62.44" y="312.29" font-size="2.72" fill="#000" stroke="#000" text-anchor="end" transform="rotate(0.1 62.44 312.29)">65706</text>
<text x="166.11" y="312.29" font-size="2.72" fill="#000" stroke="#000" transform="rotate(0.1 166.11 312.29)">509</text>
<text x="92.16" y="318.51" font-size="2.72" fill="#000" stroke="#000" text-anchor="end" transform="rotate(0.1 92.16 318.51)">46148</text>
<text x="166.13" y="318.51" font-size="2.72" fill="#000" stroke="#000" transform="rotate(0.1 166.13 318.51)">523</text>
<text x="120.21" y="324.74" font-size="2.72" fill="#000" stroke="#000" text-anchor="end" transform="rotate(0.1 120.21 324.74)">27695</text>
<text x="166.08" y="324.74" font-size="2.72" fill="#000" stroke="#000" transform="rotate(0.1 166.08 324.74)">493</text>
<text x="143.22" y="330.96" font-size="2.72" fill="#000" stroke="#000" text-anchor="end" transform="rotate(0.1 143.22 330.96)">12559</text>
<text x="166.09" y="330.96" font-size="2.72" fill="#000" stroke="#000" transform="rotate(0.1 166.09 330.96)">495</text>
<text x="154.24" y="337.19" font-size="2.72" fill="#000" stroke="#000" text-anchor="end" transform="rotate(0.1 154.24 337.19)">5556</text>
<text x="166.1" y="337.19" font-size="2.72" fill="#000" stroke="#000" transform="rotate(0.1 166.1 337.19)">504</text>
<text x="160.01" y="343.41" font-size="2.72" fill="#000" stroke="#000" text-anchor="end" transform="rotate(0.1 160.01 343.41)">1761</text>
<text x="166.38" y="343.41" font-size="2.72" fill="#000" stroke="#000" transform="rotate(0.1 166.38 343.41)">686</text>
<text x="162.3" y="349.64" font-size="2.72" fill="#000" stroke="#000" text-anchor="end" transform="rotate(0.1 162.3 349.64)">505</text>
<text x="167.7" y="349.64" font-size="2.72" fill="#000" stroke="#000" transform="rotate(0.1 167.7 349.64)">1307</text>
<text x="162.66" y="355.86" font-size="2.72" fill="#000" stroke="#000" text-anchor="end" transform="rotate(0.1 162.66 355.86)">264</text>
<text x="167.64" y="355.86" font-size="2.72" fill="#000" stroke="#000" transform="rotate(0.1 167.64 355.86)">1269</text>
<text x="162.84" y="362.09" font-size="2.72" fill="#000" stroke="#000" text-anchor="end" transform="rotate(0.1 162.84 362.09)">151</text>
<text x="167.98" y="362.09" font-size="2.72" fill="#000" stroke="#000" transform="rotate(0.1 167.98 362.09)">1494</text>
<text x="163.3" y="368.31" font-size="2.72" fill="#000" stroke="#000" text-anchor="end" transform="rotate(0.1 163.3 368.31)">92</text>
<text x="167.94" y="368.31" font-size="2.72" fill="#000" stroke="#000" transform="rotate(0.1 167.94 368.31)">1466</text>
<text x="163.35" y="374.54" font-size="2.72" fill="#000" stroke="#000" text-anchor="end" transform="rotate(0.1 163.35 374.54)">61</text>
<text x="167.28" y="374.54" font-size="2.72" fill="#000" stroke="#000" transform="rotate(0.1 167.28 374.54)">1033</text>
<text x="163.82" y="380.76" font-size="2.72" fill="#000" stroke="#000" text-anchor="end" transform="rotate(0.1 163.82 380.76)">0</text>
<text x="165.98" y="380.76" font-size="2.72" fill="#000" stroke="#000" transform="rotate(0.1 165.98 380.76)">425</text>
<text x="163.82" y="386.99" font-size="2.72" fill="#000" stroke="#000" text-anchor="end" transform="rotate(0.1 163.82 386.99)">0</text>
<text x="164.58" y="386.99" font-size="2.72" fill="#000" stroke="#000" transform="rotate(0.1 164.58 386.99)">0</text>
<text x="163.82" y="393.21" font-size="2.72" fill="#000" stroke="#000" text-anchor="end" transform="rotate(0.1 163.82 393.21)">0</text>
<text x="164.58" y="393.21" font-size="2.72" fill="#000" stroke="#000" transform="rotate(0.1 164.58 393.21)">0</text>
<text x="163.82" y="399.44" font-size="2.72" fill="#000" stroke="#000" text-anchor="end" transform="rotate(0.1 163.82 399.44)">0</text>
<text x="164.58" y="399.44" font-size="2.72" fill="#000" stroke="#000" transform="rotate(0.1 164.58 399.44)">0</text>
<text x="13.75" y="281.19" font-size="2.82" fill="#4D4D4D" stroke="#4D4D4D" text-anchor="end" transform="rotate(0.1 13.75 281.19)">95+</text>
<text x="13.75" y="287.42" font-size="2.82" fill="#4D4D4D" stroke="#4D4D4D" text-anchor="end" transform="rotate(0.1 13.75 287.42)">90–94</text>
<text x="13.75" y="293.65" font-size="2.82" fill="#4D4D4D" stroke="#4D4D4D" text-anchor="end" transform="rotate(0.1 13.75 293.65)">85–89</text>
<text x="13.75" y="299.87" font-size="2.82" fill="#4D4D4D" stroke="#4D4D4D" text-anchor="end" transform="rotate(0.1 13.75 299.87)">80–84</text>
<text x="13.75" y="306.1" font-size="2.82" fill="#4D4D4D" stroke="#4D4D4D" text-anchor="end" transform="rotate(0.1 13.75 306.1)">75–79</text>
<text x="13.75" y="312.32" font-size="2.82" fill="#4D4D4D" stroke="#4D4D4D" text-anchor="end" transform="rotate(0.1 13.75 312.32)">70–74</text>
<text x="13.75" y="318.55" font-size="2.82" fill="#4D4D4D" stroke="#4D4D4D" text-anchor="end" transform="rotate(0.1 13.75 318.55)">65–69</text>
<text x="13.75" y="324.77" font-size="2.82" fill="#4D4D4D" stroke="#4D4D4D" text-anchor="end" transform="rotate(0.1 13.75 324.77)">60–64</text>
<text x="13.75" y="331" font-size="2.82" fill="#4D4D4D" stroke="#4D4D4D" text-anchor="end" transform="rotate(0.1 13.75 331)">55–59</text>
<text x="13.75" y="337.22" font-size="2.82" fill="#4D4D4D" stroke="#4D4D4D" text-anchor="end" transform="rotate(0.1 13.75 337.22)">50–54</text>
<text x="13.75" y="343.45" font-size="2.82" fill="#4D4D4D" stroke="#4D4D4D" text-anchor="end" transform="rotate(0.1 13.75 343.45)">45–49</text>
<text x="13.75" y="349.67" font-size="2.82" fill="#4D4D4D" stroke="#4D4D4D" text-anchor="end" transform="rotate(0.1 13.75 349.67)">40–44</text>
<text x="13.75" y="355.9" font-size="2.82" fill="#4D4D4D" stroke="#4D4D4D" text-anchor="end" transform="rotate(0.1 13.75 355.9)">35–39</text>
<text x="13.75" y="362.12" font-size="2.82" fill="#4D4D4D" stroke="#4D4D4D" text-anchor="end" transform="rotate(0.1 13.75 362.12)">30–34</text>
<text x="13.75" y="368.35" font-size="2.82" fill="#4D4D4D" stroke="#4D4D4D" text-anchor="end" transform="rotate(0.1 13.75 368.35)">25–29</text>
<text x="13.75" y="374.57" font-size="2.82" fill="#4D4D4D" stroke="#4D4D4D" text-anchor="end" transform="rotate(0.1 13.75 374.57)">20–24</text>
<text x="13.75" y="380.8" font-size="2.82" fill="#4D4D4D" stroke="#4D4D4D" text-anchor="end" transform="rotate(0.1 13.75 380.8)">15–19</text>
<text x="13.75" y="387.02" font-size="2.82" fill="#4D4D4D" stroke="#4D4D4D" text-anchor="end" transform="rotate(0.1 13.75 387.02)">10–14</text>
<text x="13.75" y="393.25" font-size="2.82" fill="#4D4D4D" stroke="#4D4D4D" text-anchor="end" transform="rotate(0.1 13.75 393.25)">5–9</text>
<text x="13.75" y="399.47" font-size="2.82" fill="#4D4D4D" stroke="#4D4D4D" text-anchor="end" transform="rotate(0.1 13.75 399.47)">&lt;5</text>
<text x="50.2" y="405.76" font-size="2.82" fill="#4D4D4D" stroke="#4D4D4D" text-anchor="middle" transform="rotate(0.1 50.2 405.76)">75000</text>
<text x="88.2" y="405.76" font-size="2.82" fill="#4D4D4D" stroke="#4D4D4D" text-anchor="middle" transform="rotate(0.1 88.2 405.76)">50000</text>
<text x="126.2" y="405.76" font-size="2.82" fill="#4D4D4D" stroke="#4D4D4D" text-anchor="middle" transform="rotate(0.1 126.2 405.76)">25000</text>
<text x="164.2" y="405.76" font-size="2.82" fill="#4D4D4D" stroke="#4D4D4D" text-anchor="middle" transform="rotate(0.1 164.2 405.76)">0</text>
<text x="102.75" y="410.11" font-size="3.52" fill="#000" stroke="#000" text-anchor="middle" transform="rotate(0.1 102.75 410.11)">The Numbers of Deaths</text>
<text x="4.45" y="339.32" font-size="3.52" fill="#000" stroke="#000" text-anchor="middle" transform="rotate(-89.9 4.45 339.32)">Age</text>
<text x="1.8" y="279.85" font-size="4.75" fill="#000" stroke="#000" font-weight="bold" transform="rotate(0.1 1.8 279.85)">G</text>
<text x="197" y="334.29" font-size="3.52" fill="#000" stroke="#000" transform="rotate(0.1 197 334.29)">Cause</text>
<text x="204.2" y="340.23" font-size="2.82" fill="#000" stroke="#000" transform="rotate(0.1 204.2 340.23)">Prostate cancer</text>
<text x="204.2" y="345.48" font-size="2.82" fill="#000" stroke="#000" transform="rotate(0.1 204.2 345.48)">Testicular cancer</text>
<text x="149.88" y="418.41" font-size="2.72" fill="#000" stroke="#000" text-anchor="end" transform="rotate(0.1 149.88 418.41)">86049</text>
<text x="159.77" y="418.41" font-size="2.72" fill="#000" stroke="#000" transform="rotate(0.1 159.77 418.41)">420</text>
<text x="130.7" y="424.63" font-size="2.72" fill="#000" stroke="#000" text-anchor="end" transform="rotate(0.1 130.7 424.63)">322842</text>
<text x="160.21" y="424.63" font-size="2.72" fill="#000" stroke="#000" transform="rotate(0.1 160.21 424.63)">1248</text>
<text x="100.26" y="430.86" font-size="2.72" fill="#000" stroke="#000" text-anchor="end" transform="rotate(0.1 100.26 430.86)">706176</text>
<text x="160.36" y="430.86" font-size="2.72" fill="#000" stroke="#000" transform="rotate(0.1 160.36 430.86)">3095</text>
<text x="68.05" y="437.08" font-size="2.72" fill="#000" stroke="#000" text-anchor="end" transform="rotate(0.1 68.05 437.08)">1107135</text>
<text x="160.59" y="437.08" font-size="2.72" fill="#000" stroke="#000" transform="rotate(0.1 160.59 437.08)">6063</text>
<text x="46.02" y="443.31" font-size="2.72" fill="#000" stroke="#000" text-anchor="end" transform="rotate(0.1 46.02 443.31)">1384603</text>
<text x="160.72" y="443.31" font-size="2.72" fill="#000" stroke="#000" transform="rotate(0.1 160.72 443.31)">7705</text>
<text x="37.66" y="449.54" font-size="2.72" fill="#000" stroke="#000" text-anchor="end" transform="rotate(0.1 37.66 449.54)">1489814</text>
<text x="161.34" y="449.54" font-size="2.72" fill="#000" stroke="#000" transform="rotate(0.1 161.34 449.54)">10677</text>
<text x="53.69" y="455.76" font-size="2.72" fill="#000" stroke="#000" text-anchor="end" transform="rotate(0.1 53.69 455.76)">1287947</text>
<text x="161.59" y="455.76" font-size="2.72" fill="#000" stroke="#000" transform="rotate(0.1 161.59 455.76)">13834</text>
<text x="83.05" y="461.99" font-size="2.72" fill="#000" stroke="#000" text-anchor="end" transform="rotate(0.1 83.05 461.99)">922940</text>
<text x="161.7" y="461.99" font-size="2.72" fill="#000" stroke="#000" transform="rotate(0.1 161.7 461.99)">15295</text>
<text x="119.22" y="468.21" font-size="2.72" fill="#000" stroke="#000" text-anchor="end" transform="rotate(0.1 119.22 468.21)">467431</text>
<text x="161.9" y="468.21" font-size="2.72" fill="#000" stroke="#000" transform="rotate(0.1 161.9 468.21)">17800</text>
<text x="138.81" y="474.44" font-size="2.72" fill="#000" stroke="#000" text-anchor="end" transform="rotate(0.1 138.81 474.44)">220636</text>
<text x="162.33" y="474.44" font-size="2.72" fill="#000" stroke="#000" transform="rotate(0.1 162.33 474.44)">23118</text>
<text x="150.12" y="480.66" font-size="2.72" fill="#000" stroke="#000" text-anchor="end" transform="rotate(0.1 150.12 480.66)">83009</text>
<text x="163.04" y="480.66" font-size="2.72" fill="#000" stroke="#000" transform="rotate(0.1 163.04 480.66)">32105</text>
<text x="154.48" y="486.89" font-size="2.72" fill="#000" stroke="#000" text-anchor="end" transform="rotate(0.1 154.48 486.89)">28093</text>
<text x="164.62" y="486.89" font-size="2.72" fill="#000" stroke="#000" transform="rotate(0.1 164.62 486.89)">52007</text>
<text x="155.54" y="493.11" font-size="2.72" fill="#000" stroke="#000" text-anchor="end" transform="rotate(0.1 155.54 493.11)">14693</text>
<text x="166.36" y="493.11" font-size="2.72" fill="#000" stroke="#000" transform="rotate(0.1 166.36 493.11)">73884</text>
<text x="156.36" y="499.34" font-size="2.72" fill="#000" stroke="#000" text-anchor="end" transform="rotate(0.1 156.36 499.34)">9120</text>
<text x="167.96" y="499.34" font-size="2.72" fill="#000" stroke="#000" transform="rotate(0.1 167.96 499.34)">94040</text>
<text x="156.59" y="505.56" font-size="2.72" fill="#000" stroke="#000" text-anchor="end" transform="rotate(0.1 156.59 505.56)">6310</text>
<text x="168.92" y="505.56" font-size="2.72" fill="#000" stroke="#000" transform="rotate(0.1 168.92 505.56)">101399</text>
<text x="156.77" y="511.79" font-size="2.72" fill="#000" stroke="#000" text-anchor="end" transform="rotate(0.1 156.77 511.79)">4048</text>
<text x="166.46" y="511.79" font-size="2.72" fill="#000" stroke="#000" transform="rotate(0.1 166.46 511.79)">75217</text>
<text x="158.22" y="518.01" font-size="2.72" fill="#000" stroke="#000" text-anchor="end" transform="rotate(0.1 158.22 518.01)">0</text>
<text x="163.09" y="518.01" font-size="2.72" fill="#000" stroke="#000" transform="rotate(0.1 163.09 518.01)">32784</text>
<text x="158.22" y="524.24" font-size="2.72" fill="#000" stroke="#000" text-anchor="end" transform="rotate(0.1 158.22 524.24)">0</text>
<text x="158.98" y="524.24" font-size="2.72" fill="#000" stroke="#000" transform="rotate(0.1 158.98 524.24)">0</text>
<text x="158.22" y="530.46" font-size="2.72" fill="#000" stroke="#000" text-anchor="end" transform="rotate(0.1 158.22 530.46)">0</text>
<text x="158.98" y="530.46" font-size="2.72" fill="#000" stroke="#000" transform="rotate(0.1 158.98 530.46)">0</text>
<text x="158.22" y="536.69" font-size="2.72" fill="#000" stroke="#000" text-anchor="end" transform="rotate(0.1 158.22 536.69)">0</text>
<text x="158.98" y="536.69" font-size="2.72" fill="#000" stroke="#000" transform="rotate(0.1 158.98 536.69)">0</text>
<text x="13.75" y="418.44" font-size="2.82" fill="#4D4D4D" stroke="#4D4D4D" text-anchor="end" transform="rotate(0.1 13.75 418.44)">95+</text>
<text x="13.75" y="424.67" font-size="2.82" fill="#4D4D4D" stroke="#4D4D4D" text-anchor="end" transform="rotate(0.1 13.75 424.67)">90–94</text>
<text x="13.75" y="430.9" font-size="2.82" fill="#4D4D4D" stroke="#4D4D4D" text-anchor="end" transform="rotate(0.1 13.75 430.9)">85–89</text>
<text x="13.75" y="437.12" font-size="2.82" fill="#4D4D4D" stroke="#4D4D4D" text-anchor="end" transform="rotate(0.1 13.75 437.12)">80–84</text>
<text x="13.75" y="443.35" font-size="2.82" fill="#4D4D4D" stroke="#4D4D4D" text-anchor="end" transform="rotate(0.1 13.75 443.35)">75–79</text>
<text x="13.75" y="449.57" font-size="2.82" fill="#4D4D4D" stroke="#4D4D4D" text-anchor="end" transform="rotate(0.1 13.75 449.57)">70–74</text>
<text x="13.75" y="455.8" font-size="2.82" fill="#4D4D4D" stroke="#4D4D4D" text-anchor="end" transform="rotate(0.1 13.75 455.8)">65–69</text>
<text x="13.75" y="462.02" font-size="2.82" fill="#4D4D4D" stroke="#4D4D4D" text-anchor="end" transform="rotate(0.1 13.75 462.02)">60–64</text>
<text x="13.75" y="468.25" font-size="2.82" fill="#4D4D4D" stroke="#4D4D4D" text-anchor="end" transform="rotate(0.1 13.75 468.25)">55–59</text>
<text x="13.75" y="474.47" font-size="2.82" fill="#4D4D4D" stroke="#4D4D4D" text-anchor="end" transform="rotate(0.1 13.75 474.47)">50–54</text>
<text x="13.75" y="480.7" font-size="2.82" fill="#4D4D4D" stroke="#4D4D4D" text-anchor="end" transform="rotate(0.1 13.75 480.7)">45–49</text>
<text x="13.75" y="486.92" font-size="2.82" fill="#4D4D4D" stroke="#4D4D4D" text-anchor="end" transform="rotate(0.1 13.75 486.92)">40–44</text>
<text x="13.75" y="493.15" font-size="2.82" fill="#4D4D4D" stroke="#4D4D4D" text-anchor="end" transform="rotate(0.1 13.75 493.15)">35–39</text>
<text x="13.75" y="499.37" font-size="2.82" fill="#4D4D4D" stroke="#4D4D4D" text-anchor="end" transform="rotate(0.1 13.75 499.37)">30–34</text>
<text x="13.75" y="505.6" font-size="2.82" fill="#4D4D4D" stroke="#4D4D4D" text-anchor="end" transform="rotate(0.1 13.75 505.6)">25–29</text>
<text x="13.75" y="511.82" font-size="2.82" fill="#4D4D4D" stroke="#4D4D4D" text-anchor="end" transform="rotate(0.1 13.75 511.82)">20–24</text>
<text x="13.75" y="518.05" font-size="2.82" fill="#4D4D4D" stroke="#4D4D4D" text-anchor="end" transform="rotate(0.1 13.75 518.05)">15–19</text>
<text x="13.75" y="524.27" font-size="2.82" fill="#4D4D4D" stroke="#4D4D4D" text-anchor="end" transform="rotate(0.1 13.75 524.27)">10–14</text>
<text x="13.75" y="530.5" font-size="2.82" fill="#4D4D4D" stroke="#4D4D4D" text-anchor="end" transform="rotate(0.1 13.75 530.5)">5–9</text>
<text x="13.75" y="536.72" font-size="2.82" fill="#4D4D4D" stroke="#4D4D4D" text-anchor="end" transform="rotate(0.1 13.75 536.72)">&lt;5</text>
<text x="39.5" y="543.01" font-size="2.82" fill="#4D4D4D" stroke="#4D4D4D" text-anchor="middle" transform="rotate(0.1 39.5 543.01)">1500000</text>
<text x="79.2" y="543.01" font-size="2.82" fill="#4D4D4D" stroke="#4D4D4D" text-anchor="middle" transform="rotate(0.1 79.2 543.01)">1000000</text>
<text x="118.9" y="543.01" font-size="2.82" fill="#4D4D4D" stroke="#4D4D4D" text-anchor="middle" transform="rotate(0.1 118.9 543.01)">500000</text>
<text x="158.6" y="543.01" font-size="2.82" fill="#4D4D4D" stroke="#4D4D4D" text-anchor="middle" transform="rotate(0.1 158.6 543.01)">0</text>
<text x="102.75" y="547.36" font-size="3.52" fill="#000" stroke="#000" text-anchor="middle" transform="rotate(0.1 102.75 547.36)">The Numbers of DALYs</text>
<text x="4.45" y="476.58" font-size="3.52" fill="#000" stroke="#000" text-anchor="middle" transform="rotate(-89.9 4.45 476.58)">Age</text>
<text x="1.8" y="417.1" font-size="4.75" fill="#000" stroke="#000" font-weight="bold" transform="rotate(0.1 1.8 417.1)">J</text>
<text x="197" y="471.54" font-size="3.52" fill="#000" stroke="#000" transform="rotate(0.1 197 471.54)">Cause</text>
<text x="204.2" y="477.48" font-size="2.82" fill="#000" stroke="#000" transform="rotate(0.1 204.2 477.48)">Prostate cancer</text>
<text x="204.2" y="482.73" font-size="2.82" fill="#000" stroke="#000" transform="rotate(0.1 204.2 482.73)">Testicular cancer</text>
<text x="241.35" y="122.31" font-size="2.82" fill="#4D4D4D" stroke="#4D4D4D" text-anchor="end" transform="rotate(0.1 241.35 122.31)">0</text>
<text x="241.35" y="81.91" font-size="2.82" fill="#4D4D4D" stroke="#4D4D4D" text-anchor="end" transform="rotate(0.1 241.35 81.91)">1000</text>
<text x="241.35" y="41.51" font-size="2.82" fill="#4D4D4D" stroke="#4D4D4D" text-anchor="end" transform="rotate(0.1 241.35 41.51)">2000</text>
<text x="249.54" y="130.86" font-size="2.82" fill="#4D4D4D" stroke="#4D4D4D" text-anchor="middle" transform="rotate(0.1 249.54 130.86)">20–24</text>
<text x="260.62" y="130.86" font-size="2.82" fill="#4D4D4D" stroke="#4D4D4D" text-anchor="middle" transform="rotate(0.1 260.62 130.86)">25–29</text>
<text x="271.69" y="130.86" font-size="2.82" fill="#4D4D4D" stroke="#4D4D4D" text-anchor="middle" transform="rotate(0.1 271.69 130.86)">30–34</text>
<text x="282.77" y="130.86" font-size="2.82" fill="#4D4D4D" stroke="#4D4D4D" text-anchor="middle" transform="rotate(0.1 282.77 130.86)">35–39</text>
<text x="293.84" y="130.86" font-size="2.82" fill="#4D4D4D" stroke="#4D4D4D" text-anchor="middle" transform="rotate(0.1 293.84 130.86)">40–44</text>
<text x="304.91" y="130.86" font-size="2.82" fill="#4D4D4D" stroke="#4D4D4D" text-anchor="middle" transform="rotate(0.1 304.91 130.86)">45–49</text>
<text x="315.99" y="130.86" font-size="2.82" fill="#4D4D4D" stroke="#4D4D4D" text-anchor="middle" transform="rotate(0.1 315.99 130.86)">50–54</text>
<text x="327.06" y="130.86" font-size="2.82" fill="#4D4D4D" stroke="#4D4D4D" text-anchor="middle" transform="rotate(0.1 327.06 130.86)">55–59</text>
<text x="338.14" y="130.86" font-size="2.82" fill="#4D4D4D" stroke="#4D4D4D" text-anchor="middle" transform="rotate(0.1 338.14 130.86)">60–64</text>
<text x="349.21" y="130.86" font-size="2.82" fill="#4D4D4D" stroke="#4D4D4D" text-anchor="middle" transform="rotate(0.1 349.21 130.86)">65–69</text>
<text x="360.29" y="130.86" font-size="2.82" fill="#4D4D4D" stroke="#4D4D4D" text-anchor="middle" transform="rotate(0.1 360.29 130.86)">70–74</text>
<text x="371.36" y="130.86" font-size="2.82" fill="#4D4D4D" stroke="#4D4D4D" text-anchor="middle" transform="rotate(0.1 371.36 130.86)">75–79</text>
<text x="382.43" y="130.86" font-size="2.82" fill="#4D4D4D" stroke="#4D4D4D" text-anchor="middle" transform="rotate(0.1 382.43 130.86)">80–84</text>
<text x="393.51" y="130.86" font-size="2.82" fill="#4D4D4D" stroke="#4D4D4D" text-anchor="middle" transform="rotate(0.1 393.51 130.86)">85–89</text>
<text x="404.58" y="130.86" font-size="2.82" fill="#4D4D4D" stroke="#4D4D4D" text-anchor="middle" transform="rotate(0.1 404.58 130.86)">90–94</text>
<text x="415.66" y="130.86" font-size="2.82" fill="#4D4D4D" stroke="#4D4D4D" text-anchor="middle" transform="rotate(0.1 415.66 130.86)">95+</text>
<text x="332.45" y="135.21" font-size="3.52" fill="#000" stroke="#000" text-anchor="middle" transform="rotate(0.1 332.45 135.21)">Age</text>
<text x="233.35" y="64.62" font-size="3.52" fill="#000" stroke="#000" text-anchor="middle" transform="rotate(-89.9 233.35 64.62)">The Rate of Prevalence</text>
<text x="230.9" y="5.3" font-size="4.75" fill="#000" stroke="#000" font-weight="bold" transform="rotate(0.1 230.9 5.3)">B</text>
<text x="427" y="62.19" font-size="3.52" fill="#000" stroke="#000" transform="rotate(0.1 427 62.19)">Cause</text>
<text x="434.1" y="68.3" font-size="2.82" fill="#000" stroke="#000" transform="rotate(0.1 434.1 68.3)">Prostate cancer</text>
<text x="467.05" y="124.31" font-size="2.82" fill="#4D4D4D" stroke="#4D4D4D" text-anchor="end" transform="rotate(0.1 467.05 124.31)">0</text>
<text x="467.05" y="99.41" font-size="2.82" fill="#4D4D4D" stroke="#4D4D4D" text-anchor="end" transform="rotate(0.1 467.05 99.41)">10</text>
<text x="467.05" y="74.51" font-size="2.82" fill="#4D4D4D" stroke="#4D4D4D" text-anchor="end" transform="rotate(0.1 467.05 74.51)">20</text>
<text x="467.05" y="49.61" font-size="2.82" fill="#4D4D4D" stroke="#4D4D4D" text-anchor="end" transform="rotate(0.1 467.05 49.61)">30</text>
<text x="467.05" y="24.71" font-size="2.82" fill="#4D4D4D" stroke="#4D4D4D" text-anchor="end" transform="rotate(0.1 467.05 24.71)">40</text>
<text x="474.91" y="130.86" font-size="2.82" fill="#4D4D4D" stroke="#4D4D4D" text-anchor="middle" transform="rotate(0.1 474.91 130.86)">15–19</text>
<text x="485.44" y="130.86" font-size="2.82" fill="#4D4D4D" stroke="#4D4D4D" text-anchor="middle" transform="rotate(0.1 485.44 130.86)">20–24</text>
<text x="495.96" y="130.86" font-size="2.82" fill="#4D4D4D" stroke="#4D4D4D" text-anchor="middle" transform="rotate(0.1 495.96 130.86)">25–29</text>
<text x="506.48" y="130.86" font-size="2.82" fill="#4D4D4D" stroke="#4D4D4D" text-anchor="middle" transform="rotate(0.1 506.48 130.86)">30–34</text>
<text x="517.01" y="130.86" font-size="2.82" fill="#4D4D4D" stroke="#4D4D4D" text-anchor="middle" transform="rotate(0.1 517.01 130.86)">35–39</text>
<text x="527.53" y="130.86" font-size="2.82" fill="#4D4D4D" stroke="#4D4D4D" text-anchor="middle" transform="rotate(0.1 527.53 130.86)">40–44</text>
<text x="538.05" y="130.86" font-size="2.82" fill="#4D4D4D" stroke="#4D4D4D" text-anchor="middle" transform="rotate(0.1 538.05 130.86)">45–49</text>
<text x="548.58" y="130.86" font-size="2.82" fill="#4D4D4D" stroke="#4D4D4D" text-anchor="middle" transform="rotate(0.1 548.58 130.86)">50–54</text>
<text x="559.1" y="130.86" font-size="2.82" fill="#4D4D4D" stroke="#4D4D4D" text-anchor="middle" transform="rotate(0.1 559.1 130.86)">55–59</text>
<text x="569.62" y="130.86" font-size="2.82" fill="#4D4D4D" stroke="#4D4D4D" text-anchor="middle" transform="rotate(0.1 569.62 130.86)">60–64</text>
<text x="580.15" y="130.86" font-size="2.82" fill="#4D4D4D" stroke="#4D4D4D" text-anchor="middle" transform="rotate(0.1 580.15 130.86)">65–69</text>
<text x="590.67" y="130.86" font-size="2.82" fill="#4D4D4D" stroke="#4D4D4D" text-anchor="middle" transform="rotate(0.1 590.67 130.86)">70–74</text>
<text x="601.19" y="130.86" font-size="2.82" fill="#4D4D4D" stroke="#4D4D4D" text-anchor="middle" transform="rotate(0.1 601.19 130.86)">75–79</text>
<text x="611.72" y="130.86" font-size="2.82" fill="#4D4D4D" stroke="#4D4D4D" text-anchor="middle" transform="rotate(0.1 611.72 130.86)">80–84</text>
<text x="622.24" y="130.86" font-size="2.82" fill="#4D4D4D" stroke="#4D4D4D" text-anchor="middle" transform="rotate(0.1 622.24 130.86)">85–89</text>
<text x="632.76" y="130.86" font-size="2.82" fill="#4D4D4D" stroke="#4D4D4D" text-anchor="middle" transform="rotate(0.1 632.76 130.86)">90–94</text>
<text x="643.29" y="130.86" font-size="2.82" fill="#4D4D4D" stroke="#4D4D4D" text-anchor="middle" transform="rotate(0.1 643.29 130.86)">95+</text>
<text x="559.1" y="135.21" font-size="3.52" fill="#000" stroke="#000" text-anchor="middle" transform="rotate(0.1 559.1 135.21)">Age</text>
<text x="462.4" y="64.62" font-size="3.52" fill="#000" stroke="#000" text-anchor="middle" transform="rotate(-89.9 462.4 64.62)">The Rate of Prevalence</text>
<text x="459.4" y="5.3" font-size="4.75" fill="#000" stroke="#000" font-weight="bold" transform="rotate(0.1 459.4 5.3)">C</text>
<text x="655" y="62.19" font-size="3.52" fill="#000" stroke="#000" transform="rotate(0.1 655 62.19)">Cause</text>
<text x="662.1" y="68.3" font-size="2.82" fill="#000" stroke="#000" transform="rotate(0.1 662.1 68.3)">Testicular cancer</text>
<text x="239.75" y="259.86" font-size="2.82" fill="#4D4D4D" stroke="#4D4D4D" text-anchor="end" transform="rotate(0.1 239.75 259.86)">0</text>
<text x="239.75" y="219.36" font-size="2.82" fill="#4D4D4D" stroke="#4D4D4D" text-anchor="end" transform="rotate(0.1 239.75 219.36)">200</text>
<text x="239.75" y="178.86" font-size="2.82" fill="#4D4D4D" stroke="#4D4D4D" text-anchor="end" transform="rotate(0.1 239.75 178.86)">400</text>
<text x="248" y="268.26" font-size="2.82" fill="#4D4D4D" stroke="#4D4D4D" text-anchor="middle" transform="rotate(0.1 248 268.26)">20–24</text>
<text x="259.18" y="268.26" font-size="2.82" fill="#4D4D4D" stroke="#4D4D4D" text-anchor="middle" transform="rotate(0.1 259.18 268.26)">25–29</text>
<text x="270.35" y="268.26" font-size="2.82" fill="#4D4D4D" stroke="#4D4D4D" text-anchor="middle" transform="rotate(0.1 270.35 268.26)">30–34</text>
<text x="281.52" y="268.26" font-size="2.82" fill="#4D4D4D" stroke="#4D4D4D" text-anchor="middle" transform="rotate(0.1 281.52 268.26)">35–39</text>
<text x="292.7" y="268.26" font-size="2.82" fill="#4D4D4D" stroke="#4D4D4D" text-anchor="middle" transform="rotate(0.1 292.7 268.26)">40–44</text>
<text x="303.87" y="268.26" font-size="2.82" fill="#4D4D4D" stroke="#4D4D4D" text-anchor="middle" transform="rotate(0.1 303.87 268.26)">45–49</text>
<text x="315.04" y="268.26" font-size="2.82" fill="#4D4D4D" stroke="#4D4D4D" text-anchor="middle" transform="rotate(0.1 315.04 268.26)">50–54</text>
<text x="326.21" y="268.26" font-size="2.82" fill="#4D4D4D" stroke="#4D4D4D" text-anchor="middle" transform="rotate(0.1 326.21 268.26)">55–59</text>
<text x="337.39" y="268.26" font-size="2.82" fill="#4D4D4D" stroke="#4D4D4D" text-anchor="middle" transform="rotate(0.1 337.39 268.26)">60–64</text>
<text x="348.56" y="268.26" font-size="2.82" fill="#4D4D4D" stroke="#4D4D4D" text-anchor="middle" transform="rotate(0.1 348.56 268.26)">65–69</text>
<text x="359.73" y="268.26" font-size="2.82" fill="#4D4D4D" stroke="#4D4D4D" text-anchor="middle" transform="rotate(0.1 359.73 268.26)">70–74</text>
<text x="370.9" y="268.26" font-size="2.82" fill="#4D4D4D" stroke="#4D4D4D" text-anchor="middle" transform="rotate(0.1 370.9 268.26)">75–79</text>
<text x="382.08" y="268.26" font-size="2.82" fill="#4D4D4D" stroke="#4D4D4D" text-anchor="middle" transform="rotate(0.1 382.08 268.26)">80–84</text>
<text x="393.25" y="268.26" font-size="2.82" fill="#4D4D4D" stroke="#4D4D4D" text-anchor="middle" transform="rotate(0.1 393.25 268.26)">85–89</text>
<text x="404.42" y="268.26" font-size="2.82" fill="#4D4D4D" stroke="#4D4D4D" text-anchor="middle" transform="rotate(0.1 404.42 268.26)">90–94</text>
<text x="415.6" y="268.26" font-size="2.82" fill="#4D4D4D" stroke="#4D4D4D" text-anchor="middle" transform="rotate(0.1 415.6 268.26)">95+</text>
<text x="331.65" y="272.61" font-size="3.52" fill="#000" stroke="#000" text-anchor="middle" transform="rotate(0.1 331.65 272.61)">Age</text>
<text x="233.35" y="201.9" font-size="3.52" fill="#000" stroke="#000" text-anchor="middle" transform="rotate(-89.9 233.35 201.9)">The Rate of Incidence</text>
<text x="230.9" y="142.45" font-size="4.75" fill="#000" stroke="#000" font-weight="bold" transform="rotate(0.1 230.9 142.45)">E</text>
<text x="427" y="199.46" font-size="3.52" fill="#000" stroke="#000" transform="rotate(0.1 427 199.46)">Cause</text>
<text x="434.1" y="205.58" font-size="2.82" fill="#000" stroke="#000" transform="rotate(0.1 434.1 205.58)">Prostate cancer</text>
<text x="465.45" y="265.01" font-size="2.82" fill="#4D4D4D" stroke="#4D4D4D" text-anchor="end" transform="rotate(0.1 465.45 265.01)">1</text>
<text x="465.45" y="241.09" font-size="2.82" fill="#4D4D4D" stroke="#4D4D4D" text-anchor="end" transform="rotate(0.1 465.45 241.09)">2</text>
<text x="465.45" y="217.17" font-size="2.82" fill="#4D4D4D" stroke="#4D4D4D" text-anchor="end" transform="rotate(0.1 465.45 217.17)">3</text>
<text x="465.45" y="193.25" font-size="2.82" fill="#4D4D4D" stroke="#4D4D4D" text-anchor="end" transform="rotate(0.1 465.45 193.25)">4</text>
<text x="465.45" y="169.33" font-size="2.82" fill="#4D4D4D" stroke="#4D4D4D" text-anchor="end" transform="rotate(0.1 465.45 169.33)">5</text>
<text x="465.45" y="145.41" font-size="2.82" fill="#4D4D4D" stroke="#4D4D4D" text-anchor="end" transform="rotate(0.1 465.45 145.41)">6</text>
<text x="473.37" y="268.26" font-size="2.82" fill="#4D4D4D" stroke="#4D4D4D" text-anchor="middle" transform="rotate(0.1 473.37 268.26)">15–19</text>
<text x="483.99" y="268.26" font-size="2.82" fill="#4D4D4D" stroke="#4D4D4D" text-anchor="middle" transform="rotate(0.1 483.99 268.26)">20–24</text>
<text x="494.6" y="268.26" font-size="2.82" fill="#4D4D4D" stroke="#4D4D4D" text-anchor="middle" transform="rotate(0.1 494.6 268.26)">25–29</text>
<text x="505.22" y="268.26" font-size="2.82" fill="#4D4D4D" stroke="#4D4D4D" text-anchor="middle" transform="rotate(0.1 505.22 268.26)">30–34</text>
<text x="515.83" y="268.26" font-size="2.82" fill="#4D4D4D" stroke="#4D4D4D" text-anchor="middle" transform="rotate(0.1 515.83 268.26)">35–39</text>
<text x="526.45" y="268.26" font-size="2.82" fill="#4D4D4D" stroke="#4D4D4D" text-anchor="middle" transform="rotate(0.1 526.45 268.26)">40–44</text>
<text x="537.07" y="268.26" font-size="2.82" fill="#4D4D4D" stroke="#4D4D4D" text-anchor="middle" transform="rotate(0.1 537.07 268.26)">45–49</text>
<text x="547.68" y="268.26" font-size="2.82" fill="#4D4D4D" stroke="#4D4D4D" text-anchor="middle" transform="rotate(0.1 547.68 268.26)">50–54</text>
<text x="558.3" y="268.26" font-size="2.82" fill="#4D4D4D" stroke="#4D4D4D" text-anchor="middle" transform="rotate(0.1 558.3 268.26)">55–59</text>
<text x="568.92" y="268.26" font-size="2.82" fill="#4D4D4D" stroke="#4D4D4D" text-anchor="middle" transform="rotate(0.1 568.92 268.26)">60–64</text>
<text x="579.53" y="268.26" font-size="2.82" fill="#4D4D4D" stroke="#4D4D4D" text-anchor="middle" transform="rotate(0.1 579.53 268.26)">65–69</text>
<text x="590.15" y="268.26" font-size="2.82" fill="#4D4D4D" stroke="#4D4D4D" text-anchor="middle" transform="rotate(0.1 590.15 268.26)">70–74</text>
<text x="600.77" y="268.26" font-size="2.82" fill="#4D4D4D" stroke="#4D4D4D" text-anchor="middle" transform="rotate(0.1 600.77 268.26)">75–79</text>
<text x="611.38" y="268.26" font-size="2.82" fill="#4D4D4D" stroke="#4D4D4D" text-anchor="middle" transform="rotate(0.1 611.38 268.26)">80–84</text>
<text x="622" y="268.26" font-size="2.82" fill="#4D4D4D" stroke="#4D4D4D" text-anchor="middle" transform="rotate(0.1 622 268.26)">85–89</text>
<text x="632.61" y="268.26" font-size="2.82" fill="#4D4D4D" stroke="#4D4D4D" text-anchor="middle" transform="rotate(0.1 632.61 268.26)">90–94</text>
<text x="643.23" y="268.26" font-size="2.82" fill="#4D4D4D" stroke="#4D4D4D" text-anchor="middle" transform="rotate(0.1 643.23 268.26)">95+</text>
<text x="558.3" y="272.61" font-size="3.52" fill="#000" stroke="#000" text-anchor="middle" transform="rotate(0.1 558.3 272.61)">Age</text>
<text x="462.4" y="201.9" font-size="3.52" fill="#000" stroke="#000" text-anchor="middle" transform="rotate(-89.9 462.4 201.9)">The Rate of Incidence</text>
<text x="459.4" y="142.45" font-size="4.75" fill="#000" stroke="#000" font-weight="bold" transform="rotate(0.1 459.4 142.45)">F</text>
<text x="655" y="199.46" font-size="3.52" fill="#000" stroke="#000" transform="rotate(0.1 655 199.46)">Cause</text>
<text x="662.1" y="205.58" font-size="2.82" fill="#000" stroke="#000" transform="rotate(0.1 662.1 205.58)">Testicular cancer</text>
<text x="239.75" y="397.01" font-size="2.82" fill="#4D4D4D" stroke="#4D4D4D" text-anchor="end" transform="rotate(0.1 239.75 397.01)">0</text>
<text x="239.75" y="367.21" font-size="2.82" fill="#4D4D4D" stroke="#4D4D4D" text-anchor="end" transform="rotate(0.1 239.75 367.21)">200</text>
<text x="239.75" y="337.41" font-size="2.82" fill="#4D4D4D" stroke="#4D4D4D" text-anchor="end" transform="rotate(0.1 239.75 337.41)">400</text>
<text x="239.75" y="307.61" font-size="2.82" fill="#4D4D4D" stroke="#4D4D4D" text-anchor="end" transform="rotate(0.1 239.75 307.61)">600</text>
<text x="239.75" y="277.81" font-size="2.82" fill="#4D4D4D" stroke="#4D4D4D" text-anchor="end" transform="rotate(0.1 239.75 277.81)">800</text>
<text x="248" y="405.76" font-size="2.82" fill="#4D4D4D" stroke="#4D4D4D" text-anchor="middle" transform="rotate(0.1 248 405.76)">20–24</text>
<text x="259.18" y="405.76" font-size="2.82" fill="#4D4D4D" stroke="#4D4D4D" text-anchor="middle" transform="rotate(0.1 259.18 405.76)">25–29</text>
<text x="270.35" y="405.76" font-size="2.82" fill="#4D4D4D" stroke="#4D4D4D" text-anchor="middle" transform="rotate(0.1 270.35 405.76)">30–34</text>
<text x="281.52" y="405.76" font-size="2.82" fill="#4D4D4D" stroke="#4D4D4D" text-anchor="middle" transform="rotate(0.1 281.52 405.76)">35–39</text>
<text x="292.7" y="405.76" font-size="2.82" fill="#4D4D4D" stroke="#4D4D4D" text-anchor="middle" transform="rotate(0.1 292.7 405.76)">40–44</text>
<text x="303.87" y="405.76" font-size="2.82" fill="#4D4D4D" stroke="#4D4D4D" text-anchor="middle" transform="rotate(0.1 303.87 405.76)">45–49</text>
<text x="315.04" y="405.76" font-size="2.82" fill="#4D4D4D" stroke="#4D4D4D" text-anchor="middle" transform="rotate(0.1 315.04 405.76)">50–54</text>
<text x="326.21" y="405.76" font-size="2.82" fill="#4D4D4D" stroke="#4D4D4D" text-anchor="middle" transform="rotate(0.1 326.21 405.76)">55–59</text>
<text x="337.39" y="405.76" font-size="2.82" fill="#4D4D4D" stroke="#4D4D4D" text-anchor="middle" transform="rotate(0.1 337.39 405.76)">60–64</text>
<text x="348.56" y="405.76" font-size="2.82" fill="#4D4D4D" stroke="#4D4D4D" text-anchor="middle" transform="rotate(0.1 348.56 405.76)">65–69</text>
<text x="359.73" y="405.76" font-size="2.82" fill="#4D4D4D" stroke="#4D4D4D" text-anchor="middle" transform="rotate(0.1 359.73 405.76)">70–74</text>
<text x="370.9" y="405.76" font-size="2.82" fill="#4D4D4D" stroke="#4D4D4D" text-anchor="middle" transform="rotate(0.1 370.9 405.76)">75–79</text>
<text x="382.08" y="405.76" font-size="2.82" fill="#4D4D4D" stroke="#4D4D4D" text-anchor="middle" transform="rotate(0.1 382.08 405.76)">80–84</text>
<text x="393.25" y="405.76" font-size="2.82" fill="#4D4D4D" stroke="#4D4D4D" text-anchor="middle" transform="rotate(0.1 393.25 405.76)">85–89</text>
<text x="404.42" y="405.76" font-size="2.82" fill="#4D4D4D" stroke="#4D4D4D" text-anchor="middle" transform="rotate(0.1 404.42 405.76)">90–94</text>
<text x="415.6" y="405.76" font-size="2.82" fill="#4D4D4D" stroke="#4D4D4D" text-anchor="middle" transform="rotate(0.1 415.6 405.76)">95+</text>
<text x="331.65" y="410.11" font-size="3.52" fill="#000" stroke="#000" text-anchor="middle" transform="rotate(0.1 331.65 410.11)">Age</text>
<text x="233.35" y="339.32" font-size="3.52" fill="#000" stroke="#000" text-anchor="middle" transform="rotate(-89.9 233.35 339.32)">The Rate of Deaths</text>
<text x="230.9" y="279.8" font-size="4.75" fill="#000" stroke="#000" font-weight="bold" transform="rotate(0.1 230.9 279.8)">H</text>
<text x="427" y="336.89" font-size="3.52" fill="#000" stroke="#000" transform="rotate(0.1 427 336.89)">Cause</text>
<text x="434.1" y="343" font-size="2.82" fill="#000" stroke="#000" transform="rotate(0.1 434.1 343)">Prostate cancer</text>
<text x="465.45" y="400.81" font-size="2.82" fill="#4D4D4D" stroke="#4D4D4D" text-anchor="end" transform="rotate(0.1 465.45 400.81)">0</text>
<text x="465.45" y="370.41" font-size="2.82" fill="#4D4D4D" stroke="#4D4D4D" text-anchor="end" transform="rotate(0.1 465.45 370.41)">1</text>
<text x="465.45" y="340.01" font-size="2.82" fill="#4D4D4D" stroke="#4D4D4D" text-anchor="end" transform="rotate(0.1 465.45 340.01)">2</text>
<text x="465.45" y="309.61" font-size="2.82" fill="#4D4D4D" stroke="#4D4D4D" text-anchor="end" transform="rotate(0.1 465.45 309.61)">3</text>
<text x="465.45" y="279.21" font-size="2.82" fill="#4D4D4D" stroke="#4D4D4D" text-anchor="end" transform="rotate(0.1 465.45 279.21)">4</text>
<text x="473.37" y="405.76" font-size="2.82" fill="#4D4D4D" stroke="#4D4D4D" text-anchor="middle" transform="rotate(0.1 473.37 405.76)">15–19</text>
<text x="483.99" y="405.76" font-size="2.82" fill="#4D4D4D" stroke="#4D4D4D" text-anchor="middle" transform="rotate(0.1 483.99 405.76)">20–24</text>
<text x="494.6" y="405.76" font-size="2.82" fill="#4D4D4D" stroke="#4D4D4D" text-anchor="middle" transform="rotate(0.1 494.6 405.76)">25–29</text>
<text x="505.22" y="405.76" font-size="2.82" fill="#4D4D4D" stroke="#4D4D4D" text-anchor="middle" transform="rotate(0.1 505.22 405.76)">30–34</text>
<text x="515.83" y="405.76" font-size="2.82" fill="#4D4D4D" stroke="#4D4D4D" text-anchor="middle" transform="rotate(0.1 515.83 405.76)">35–39</text>
<text x="526.45" y="405.76" font-size="2.82" fill="#4D4D4D" stroke="#4D4D4D" text-anchor="middle" transform="rotate(0.1 526.45 405.76)">40–44</text>
<text x="537.07" y="405.76" font-size="2.82" fill="#4D4D4D" stroke="#4D4D4D" text-anchor="middle" transform="rotate(0.1 537.07 405.76)">45–49</text>
<text x="547.68" y="405.76" font-size="2.82" fill="#4D4D4D" stroke="#4D4D4D" text-anchor="middle" transform="rotate(0.1 547.68 405.76)">50–54</text>
<text x="558.3" y="405.76" font-size="2.82" fill="#4D4D4D" stroke="#4D4D4D" text-anchor="middle" transform="rotate(0.1 558.3 405.76)">55–59</text>
<text x="568.92" y="405.76" font-size="2.82" fill="#4D4D4D" stroke="#4D4D4D" text-anchor="middle" transform="rotate(0.1 568.92 405.76)">60–64</text>
<text x="579.53" y="405.76" font-size="2.82" fill="#4D4D4D" stroke="#4D4D4D" text-anchor="middle" transform="rotate(0.1 579.53 405.76)">65–69</text>
<text x="590.15" y="405.76" font-size="2.82" fill="#4D4D4D" stroke="#4D4D4D" text-anchor="middle" transform="rotate(0.1 590.15 405.76)">70–74</text>
<text x="600.77" y="405.76" font-size="2.82" fill="#4D4D4D" stroke="#4D4D4D" text-anchor="middle" transform="rotate(0.1 600.77 405.76)">75–79</text>
<text x="611.38" y="405.76" font-size="2.82" fill="#4D4D4D" stroke="#4D4D4D" text-anchor="middle" transform="rotate(0.1 611.38 405.76)">80–84</text>
<text x="622" y="405.76" font-size="2.82" fill="#4D4D4D" stroke="#4D4D4D" text-anchor="middle" transform="rotate(0.1 622 405.76)">85–89</text>
<text x="632.61" y="405.76" font-size="2.82" fill="#4D4D4D" stroke="#4D4D4D" text-anchor="middle" transform="rotate(0.1 632.61 405.76)">90–94</text>
<text x="643.23" y="405.76" font-size="2.82" fill="#4D4D4D" stroke="#4D4D4D" text-anchor="middle" transform="rotate(0.1 643.23 405.76)">95+</text>
<text x="558.3" y="410.11" font-size="3.52" fill="#000" stroke="#000" text-anchor="middle" transform="rotate(0.1 558.3 410.11)">Age</text>
<text x="462.4" y="339.32" font-size="3.52" fill="#000" stroke="#000" text-anchor="middle" transform="rotate(-89.9 462.4 339.32)">The Rate of Deaths</text>
<text x="459.4" y="279.8" font-size="4.75" fill="#000" stroke="#000" font-weight="bold" transform="rotate(0.1 459.4 279.8)">I</text>
<text x="655" y="336.89" font-size="3.52" fill="#000" stroke="#000" transform="rotate(0.1 655 336.89)">Cause</text>
<text x="662.1" y="343" font-size="2.82" fill="#000" stroke="#000" transform="rotate(0.1 662.1 343)">Testicular cancer</text>
<text x="241.45" y="534.16" font-size="2.82" fill="#4D4D4D" stroke="#4D4D4D" text-anchor="end" transform="rotate(0.1 241.45 534.16)">0</text>
<text x="241.45" y="498.51" font-size="2.82" fill="#4D4D4D" stroke="#4D4D4D" text-anchor="end" transform="rotate(0.1 241.45 498.51)">2000</text>
<text x="241.45" y="462.86" font-size="2.82" fill="#4D4D4D" stroke="#4D4D4D" text-anchor="end" transform="rotate(0.1 241.45 462.86)">4000</text>
<text x="241.45" y="427.21" font-size="2.82" fill="#4D4D4D" stroke="#4D4D4D" text-anchor="end" transform="rotate(0.1 241.45 427.21)">6000</text>
<text x="249.64" y="543.01" font-size="2.82" fill="#4D4D4D" stroke="#4D4D4D" text-anchor="middle" transform="rotate(0.1 249.64 543.01)">20–24</text>
<text x="260.71" y="543.01" font-size="2.82" fill="#4D4D4D" stroke="#4D4D4D" text-anchor="middle" transform="rotate(0.1 260.71 543.01)">25–29</text>
<text x="271.78" y="543.01" font-size="2.82" fill="#4D4D4D" stroke="#4D4D4D" text-anchor="middle" transform="rotate(0.1 271.78 543.01)">30–34</text>
<text x="282.84" y="543.01" font-size="2.82" fill="#4D4D4D" stroke="#4D4D4D" text-anchor="middle" transform="rotate(0.1 282.84 543.01)">35–39</text>
<text x="293.91" y="543.01" font-size="2.82" fill="#4D4D4D" stroke="#4D4D4D" text-anchor="middle" transform="rotate(0.1 293.91 543.01)">40–44</text>
<text x="304.98" y="543.01" font-size="2.82" fill="#4D4D4D" stroke="#4D4D4D" text-anchor="middle" transform="rotate(0.1 304.98 543.01)">45–49</text>
<text x="316.05" y="543.01" font-size="2.82" fill="#4D4D4D" stroke="#4D4D4D" text-anchor="middle" transform="rotate(0.1 316.05 543.01)">50–54</text>
<text x="327.12" y="543.01" font-size="2.82" fill="#4D4D4D" stroke="#4D4D4D" text-anchor="middle" transform="rotate(0.1 327.12 543.01)">55–59</text>
<text x="338.18" y="543.01" font-size="2.82" fill="#4D4D4D" stroke="#4D4D4D" text-anchor="middle" transform="rotate(0.1 338.18 543.01)">60–64</text>
<text x="349.25" y="543.01" font-size="2.82" fill="#4D4D4D" stroke="#4D4D4D" text-anchor="middle" transform="rotate(0.1 349.25 543.01)">65–69</text>
<text x="360.32" y="543.01" font-size="2.82" fill="#4D4D4D" stroke="#4D4D4D" text-anchor="middle" transform="rotate(0.1 360.32 543.01)">70–74</text>
<text x="371.39" y="543.01" font-size="2.82" fill="#4D4D4D" stroke="#4D4D4D" text-anchor="middle" transform="rotate(0.1 371.39 543.01)">75–79</text>
<text x="382.46" y="543.01" font-size="2.82" fill="#4D4D4D" stroke="#4D4D4D" text-anchor="middle" transform="rotate(0.1 382.46 543.01)">80–84</text>
<text x="393.52" y="543.01" font-size="2.82" fill="#4D4D4D" stroke="#4D4D4D" text-anchor="middle" transform="rotate(0.1 393.52 543.01)">85–89</text>
<text x="404.59" y="543.01" font-size="2.82" fill="#4D4D4D" stroke="#4D4D4D" text-anchor="middle" transform="rotate(0.1 404.59 543.01)">90–94</text>
<text x="415.66" y="543.01" font-size="2.82" fill="#4D4D4D" stroke="#4D4D4D" text-anchor="middle" transform="rotate(0.1 415.66 543.01)">95+</text>
<text x="332.5" y="547.36" font-size="3.52" fill="#000" stroke="#000" text-anchor="middle" transform="rotate(0.1 332.5 547.36)">Age</text>
<text x="233.35" y="476.58" font-size="3.52" fill="#000" stroke="#000" text-anchor="middle" transform="rotate(-89.9 233.35 476.58)">The Rate of DALYs</text>
<text x="230.9" y="417.05" font-size="4.75" fill="#000" stroke="#000" font-weight="bold" transform="rotate(0.1 230.9 417.05)">K</text>
<text x="427" y="474.14" font-size="3.52" fill="#000" stroke="#000" transform="rotate(0.1 427 474.14)">Cause</text>
<text x="434.1" y="480.25" font-size="2.82" fill="#000" stroke="#000" transform="rotate(0.1 434.1 480.25)">Prostate cancer</text>
<text x="467.05" y="528.91" font-size="2.82" fill="#4D4D4D" stroke="#4D4D4D" text-anchor="end" transform="rotate(0.1 467.05 528.91)">10</text>
<text x="467.05" y="489.13" font-size="2.82" fill="#4D4D4D" stroke="#4D4D4D" text-anchor="end" transform="rotate(0.1 467.05 489.13)">20</text>
<text x="467.05" y="449.35" font-size="2.82" fill="#4D4D4D" stroke="#4D4D4D" text-anchor="end" transform="rotate(0.1 467.05 449.35)">30</text>
<text x="474.91" y="543.01" font-size="2.82" fill="#4D4D4D" stroke="#4D4D4D" text-anchor="middle" transform="rotate(0.1 474.91 543.01)">15–19</text>
<text x="485.44" y="543.01" font-size="2.82" fill="#4D4D4D" stroke="#4D4D4D" text-anchor="middle" transform="rotate(0.1 485.44 543.01)">20–24</text>
<text x="495.96" y="543.01" font-size="2.82" fill="#4D4D4D" stroke="#4D4D4D" text-anchor="middle" transform="rotate(0.1 495.96 543.01)">25–29</text>
<text x="506.48" y="543.01" font-size="2.82" fill="#4D4D4D" stroke="#4D4D4D" text-anchor="middle" transform="rotate(0.1 506.48 543.01)">30–34</text>
<text x="517.01" y="543.01" font-size="2.82" fill="#4D4D4D" stroke="#4D4D4D" text-anchor="middle" transform="rotate(0.1 517.01 543.01)">35–39</text>
<text x="527.53" y="543.01" font-size="2.82" fill="#4D4D4D" stroke="#4D4D4D" text-anchor="middle" transform="rotate(0.1 527.53 543.01)">40–44</text>
<text x="538.05" y="543.01" font-size="2.82" fill="#4D4D4D" stroke="#4D4D4D" text-anchor="middle" transform="rotate(0.1 538.05 543.01)">45–49</text>
<text x="548.58" y="543.01" font-size="2.82" fill="#4D4D4D" stroke="#4D4D4D" text-anchor="middle" transform="rotate(0.1 548.58 543.01)">50–54</text>
<text x="559.1" y="543.01" font-size="2.82" fill="#4D4D4D" stroke="#4D4D4D" text-anchor="middle" transform="rotate(0.1 559.1 543.01)">55–59</text>
<text x="569.62" y="543.01" font-size="2.82" fill="#4D4D4D" stroke="#4D4D4D" text-anchor="middle" transform="rotate(0.1 569.62 543.01)">60–64</text>
<text x="580.15" y="543.01" font-size="2.82" fill="#4D4D4D" stroke="#4D4D4D" text-anchor="middle" transform="rotate(0.1 580.15 543.01)">65–69</text>
<text x="590.67" y="543.01" font-size="2.82" fill="#4D4D4D" stroke="#4D4D4D" text-anchor="middle" transform="rotate(0.1 590.67 543.01)">70–74</text>
<text x="601.19" y="543.01" font-size="2.82" fill="#4D4D4D" stroke="#4D4D4D" text-anchor="middle" transform="rotate(0.1 601.19 543.01)">75–79</text>
<text x="611.72" y="543.01" font-size="2.82" fill="#4D4D4D" stroke="#4D4D4D" text-anchor="middle" transform="rotate(0.1 611.72 543.01)">80–84</text>
<text x="622.24" y="543.01" font-size="2.82" fill="#4D4D4D" stroke="#4D4D4D" text-anchor="middle" transform="rotate(0.1 622.24 543.01)">85–89</text>
<text x="632.76" y="543.01" font-size="2.82" fill="#4D4D4D" stroke="#4D4D4D" text-anchor="middle" transform="rotate(0.1 632.76 543.01)">90–94</text>
<text x="643.29" y="543.01" font-size="2.82" fill="#4D4D4D" stroke="#4D4D4D" text-anchor="middle" transform="rotate(0.1 643.29 543.01)">95+</text>
<text x="559.1" y="547.36" font-size="3.52" fill="#000" stroke="#000" text-anchor="middle" transform="rotate(0.1 559.1 547.36)">Age</text>
<text x="462.4" y="476.58" font-size="3.52" fill="#000" stroke="#000" text-anchor="middle" transform="rotate(-89.9 462.4 476.58)">The Rate of DALYs</text>
<text x="459.4" y="417.05" font-size="4.75" fill="#000" stroke="#000" font-weight="bold" transform="rotate(0.1 459.4 417.05)">L</text>
<text x="655" y="474.14" font-size="3.52" fill="#000" stroke="#000" transform="rotate(0.1 655 474.14)">Cause</text>
<text x="662.1" y="480.25" font-size="2.82" fill="#000" stroke="#000" transform="rotate(0.1 662.1 480.25)">Testicular cancer</text>
</g>
</svg>
</body>
</html>
